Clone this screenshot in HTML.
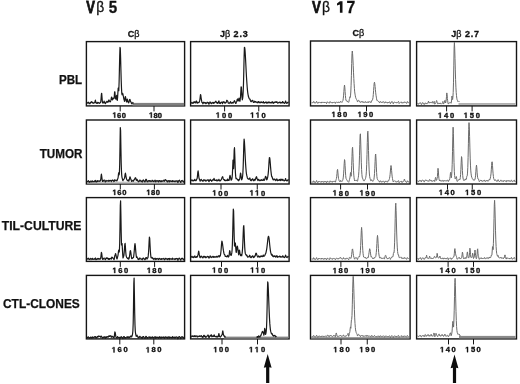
<!DOCTYPE html>
<html><head><meta charset="utf-8"><style>
html,body{margin:0;padding:0;background:#fff;}
svg{display:block;will-change:transform;}
text{font-family:"Liberation Sans",sans-serif;fill:#111;}
.t{stroke:#111;stroke-width:0.25;}
.h{stroke:#111;stroke-width:0.15;}
</style></head><body>
<svg width="520" height="384" viewBox="0 0 520 384">
<rect x="86.4" y="41.6" width="98.20" height="64.30" fill="none" stroke="#151515" stroke-width="1.4"/>
<rect x="86.4" y="120.0" width="98.20" height="64.00" fill="none" stroke="#151515" stroke-width="1.4"/>
<rect x="86.4" y="197.6" width="98.20" height="63.80" fill="none" stroke="#151515" stroke-width="1.4"/>
<rect x="86.4" y="275.4" width="98.20" height="63.50" fill="none" stroke="#151515" stroke-width="1.4"/>
<rect x="190.6" y="41.6" width="98.50" height="64.30" fill="none" stroke="#151515" stroke-width="1.4"/>
<rect x="190.6" y="120.0" width="98.50" height="64.00" fill="none" stroke="#151515" stroke-width="1.4"/>
<rect x="190.6" y="197.6" width="98.50" height="63.80" fill="none" stroke="#151515" stroke-width="1.4"/>
<rect x="190.6" y="275.4" width="98.50" height="63.50" fill="none" stroke="#151515" stroke-width="1.4"/>
<rect x="310.5" y="41.0" width="99.60" height="64.90" fill="none" stroke="#151515" stroke-width="1.4"/>
<rect x="310.5" y="120.0" width="99.60" height="64.00" fill="none" stroke="#151515" stroke-width="1.4"/>
<rect x="310.5" y="197.6" width="99.60" height="63.80" fill="none" stroke="#151515" stroke-width="1.4"/>
<rect x="310.5" y="275.4" width="99.60" height="63.50" fill="none" stroke="#151515" stroke-width="1.4"/>
<rect x="416.6" y="41.6" width="99.90" height="64.30" fill="none" stroke="#151515" stroke-width="1.4"/>
<rect x="416.6" y="120.0" width="99.90" height="64.00" fill="none" stroke="#151515" stroke-width="1.4"/>
<rect x="416.6" y="197.6" width="99.90" height="63.80" fill="none" stroke="#151515" stroke-width="1.4"/>
<rect x="416.6" y="275.4" width="99.90" height="63.50" fill="none" stroke="#151515" stroke-width="1.4"/>
<text transform="translate(86.20,12.57) scale(0.824,1)" font-size="15.82" font-weight="bold" stroke="#111" stroke-width="0.75">V</text>
<text transform="translate(96.17,12.44) scale(0.976,1)" font-size="14.25" font-weight="normal" stroke="#111" stroke-width="0.3">β</text>
<text transform="translate(108.72,12.54) scale(0.967,1)" font-size="15.63" font-weight="bold" stroke="#111" stroke-width="0.3">5</text>
<text transform="translate(312.01,12.57) scale(0.828,1)" font-size="16.10" font-weight="bold" stroke="#111" stroke-width="0.75">V</text>
<text transform="translate(321.97,12.44) scale(0.976,1)" font-size="14.25" font-weight="normal" stroke="#111" stroke-width="0.3">β</text>
<path d="M339.9 1.3 L342.5 1.3 L342.5 12.7 L339.9 12.7 L339.9 4.6 L337.0 5.6 L337.0 3.5 Z" fill="#111"/>
<text transform="translate(346.38,12.57) scale(0.998,1)" font-size="15.68" font-weight="bold" stroke="#111" stroke-width="0.3">7</text>
<text x="127.8" y="36.7" font-size="9.0" font-weight="bold" stroke="#111" stroke-width="0.3">C<tspan font-weight="normal">β</tspan></text>
<text x="352.4" y="36.4" font-size="9.0" font-weight="bold" stroke="#111" stroke-width="0.3">C<tspan font-weight="normal">β</tspan></text>
<text x="219.9" y="36.8" font-size="9.0" font-weight="bold" stroke="#111" stroke-width="0.3">J<tspan font-weight="normal">β</tspan></text>
<text x="233.6" y="36.8" font-size="9.0" font-weight="bold" stroke="#111" stroke-width="0.3" textLength="14.2" lengthAdjust="spacing">2.3</text>
<text x="451.3" y="36.8" font-size="9.0" font-weight="bold" stroke="#111" stroke-width="0.3">J<tspan font-weight="normal">β</tspan></text>
<text x="464.9" y="36.8" font-size="9.0" font-weight="bold" stroke="#111" stroke-width="0.3" textLength="14.0" lengthAdjust="spacing">2.7</text>
<text x="59.0" y="83.6" font-size="12.4" font-weight="bold" stroke="#111" stroke-width="0.25" textLength="23.2" lengthAdjust="spacingAndGlyphs">PBL</text>
<text x="39.7" y="157.5" font-size="12.4" font-weight="bold" stroke="#111" stroke-width="0.25" textLength="42.8" lengthAdjust="spacingAndGlyphs">TUMOR</text>
<text x="1.8" y="229.5" font-size="12.4" font-weight="bold" stroke="#111" stroke-width="0.25" textLength="79.6" lengthAdjust="spacingAndGlyphs">TIL-CULTURE</text>
<text x="3.0" y="308.2" font-size="12.4" font-weight="bold" stroke="#111" stroke-width="0.25" textLength="76.8" lengthAdjust="spacingAndGlyphs">CTL-CLONES</text>
<line x1="120.2" y1="105.9" x2="120.2" y2="111.4" stroke="#151515" stroke-width="1"/>
<line x1="154.0" y1="105.9" x2="154.0" y2="111.4" stroke="#151515" stroke-width="1"/>
<line x1="120.3" y1="184.0" x2="120.3" y2="189.5" stroke="#151515" stroke-width="1"/>
<line x1="154.4" y1="184.0" x2="154.4" y2="189.5" stroke="#151515" stroke-width="1"/>
<line x1="120.3" y1="261.4" x2="120.3" y2="266.9" stroke="#151515" stroke-width="1"/>
<line x1="154.6" y1="261.4" x2="154.6" y2="266.9" stroke="#151515" stroke-width="1"/>
<line x1="119.8" y1="338.9" x2="119.8" y2="344.4" stroke="#151515" stroke-width="1"/>
<line x1="153.8" y1="338.9" x2="153.8" y2="344.4" stroke="#151515" stroke-width="1"/>
<line x1="224.6" y1="105.9" x2="224.6" y2="111.4" stroke="#151515" stroke-width="1"/>
<line x1="258.75" y1="105.9" x2="258.75" y2="111.4" stroke="#151515" stroke-width="1"/>
<line x1="221.0" y1="184.0" x2="221.0" y2="189.5" stroke="#151515" stroke-width="1"/>
<line x1="257.25" y1="184.0" x2="257.25" y2="189.5" stroke="#151515" stroke-width="1"/>
<line x1="221.5" y1="261.4" x2="221.5" y2="266.9" stroke="#151515" stroke-width="1"/>
<line x1="257.5" y1="261.4" x2="257.5" y2="266.9" stroke="#151515" stroke-width="1"/>
<line x1="222.0" y1="338.9" x2="222.0" y2="344.4" stroke="#151515" stroke-width="1"/>
<line x1="257.5" y1="338.9" x2="257.5" y2="344.4" stroke="#151515" stroke-width="1"/>
<line x1="339.75" y1="105.9" x2="339.75" y2="111.4" stroke="#151515" stroke-width="1"/>
<line x1="366.5" y1="105.9" x2="366.5" y2="111.4" stroke="#151515" stroke-width="1"/>
<line x1="340.6" y1="184.0" x2="340.6" y2="189.5" stroke="#151515" stroke-width="1"/>
<line x1="367.5" y1="184.0" x2="367.5" y2="189.5" stroke="#151515" stroke-width="1"/>
<line x1="340.9" y1="261.4" x2="340.9" y2="266.9" stroke="#151515" stroke-width="1"/>
<line x1="367.75" y1="261.4" x2="367.75" y2="266.9" stroke="#151515" stroke-width="1"/>
<line x1="341.0" y1="338.9" x2="341.0" y2="344.4" stroke="#151515" stroke-width="1"/>
<line x1="367.25" y1="338.9" x2="367.25" y2="344.4" stroke="#151515" stroke-width="1"/>
<line x1="446.6" y1="105.9" x2="446.6" y2="111.4" stroke="#151515" stroke-width="1"/>
<line x1="472.1" y1="105.9" x2="472.1" y2="111.4" stroke="#151515" stroke-width="1"/>
<line x1="447.5" y1="184.0" x2="447.5" y2="189.5" stroke="#151515" stroke-width="1"/>
<line x1="472.25" y1="184.0" x2="472.25" y2="189.5" stroke="#151515" stroke-width="1"/>
<line x1="448.1" y1="261.4" x2="448.1" y2="266.9" stroke="#151515" stroke-width="1"/>
<line x1="473.5" y1="261.4" x2="473.5" y2="266.9" stroke="#151515" stroke-width="1"/>
<line x1="448.5" y1="338.9" x2="448.5" y2="344.4" stroke="#151515" stroke-width="1"/>
<line x1="473.5" y1="338.9" x2="473.5" y2="344.4" stroke="#151515" stroke-width="1"/>
<path d="M114.20 117.70 L114.20 113.36 L112.95 114.14 L112.95 113.32 L114.26 112.47 L115.25 112.47 L115.25 117.70 Z" fill="#111" stroke="#111" stroke-width="0.35"/>
<text x="117.10" y="117.70" font-size="7.6" font-weight="bold" stroke="#111" stroke-width="0.35">6</text>
<text x="121.78" y="117.70" font-size="7.6" font-weight="bold" stroke="#111" stroke-width="0.35">0</text>
<path d="M150.80 117.70 L150.80 113.36 L149.55 114.14 L149.55 113.32 L150.86 112.47 L151.85 112.47 L151.85 117.70 Z" fill="#111" stroke="#111" stroke-width="0.35"/>
<text x="153.40" y="117.70" font-size="7.6" font-weight="bold" stroke="#111" stroke-width="0.35">8</text>
<text x="157.78" y="117.70" font-size="7.6" font-weight="bold" stroke="#111" stroke-width="0.35">0</text>
<path d="M217.65 117.70 L217.65 113.36 L216.40 114.14 L216.40 113.32 L217.71 112.47 L218.70 112.47 L218.70 117.70 Z" fill="#111" stroke="#111" stroke-width="0.35"/>
<text x="221.88" y="117.70" font-size="7.6" font-weight="bold" stroke="#111" stroke-width="0.35">0</text>
<text x="227.88" y="117.70" font-size="7.6" font-weight="bold" stroke="#111" stroke-width="0.35">0</text>
<path d="M252.00 117.70 L252.00 113.36 L250.75 114.14 L250.75 113.32 L252.06 112.47 L253.05 112.47 L253.05 117.70 Z" fill="#111" stroke="#111" stroke-width="0.35"/>
<path d="M257.47 117.70 L257.47 113.36 L256.21 114.14 L256.21 113.32 L257.52 112.47 L258.51 112.47 L258.51 117.70 Z" fill="#111" stroke="#111" stroke-width="0.35"/>
<text x="261.58" y="117.70" font-size="7.6" font-weight="bold" stroke="#111" stroke-width="0.35">0</text>
<path d="M333.30 117.10 L333.30 112.76 L332.05 113.54 L332.05 112.72 L333.36 111.87 L334.35 111.87 L334.35 117.10 Z" fill="#111" stroke="#111" stroke-width="0.35"/>
<text x="337.20" y="117.10" font-size="7.6" font-weight="bold" stroke="#111" stroke-width="0.35">8</text>
<text x="342.88" y="117.10" font-size="7.6" font-weight="bold" stroke="#111" stroke-width="0.35">0</text>
<path d="M359.40 117.10 L359.40 112.76 L358.15 113.54 L358.15 112.72 L359.46 111.87 L360.45 111.87 L360.45 117.10 Z" fill="#111" stroke="#111" stroke-width="0.35"/>
<text x="363.30" y="117.10" font-size="7.6" font-weight="bold" stroke="#111" stroke-width="0.35">9</text>
<text x="368.98" y="117.10" font-size="7.6" font-weight="bold" stroke="#111" stroke-width="0.35">0</text>
<path d="M439.70 117.90 L439.70 113.56 L438.45 114.34 L438.45 113.52 L439.76 112.67 L440.75 112.67 L440.75 117.90 Z" fill="#111" stroke="#111" stroke-width="0.35"/>
<text x="443.90" y="117.90" font-size="7.6" font-weight="bold" stroke="#111" stroke-width="0.35">4</text>
<text x="449.88" y="117.90" font-size="7.6" font-weight="bold" stroke="#111" stroke-width="0.35">0</text>
<path d="M465.50 117.90 L465.50 113.56 L464.25 114.34 L464.25 113.52 L465.56 112.67 L466.55 112.67 L466.55 117.90 Z" fill="#111" stroke="#111" stroke-width="0.35"/>
<text x="469.70" y="117.90" font-size="7.6" font-weight="bold" stroke="#111" stroke-width="0.35">5</text>
<text x="475.68" y="117.90" font-size="7.6" font-weight="bold" stroke="#111" stroke-width="0.35">0</text>
<path d="M114.20 195.00 L114.20 190.66 L112.95 191.44 L112.95 190.62 L114.26 189.77 L115.25 189.77 L115.25 195.00 Z" fill="#111" stroke="#111" stroke-width="0.35"/>
<text x="117.35" y="195.00" font-size="7.6" font-weight="bold" stroke="#111" stroke-width="0.35">6</text>
<text x="122.28" y="195.00" font-size="7.6" font-weight="bold" stroke="#111" stroke-width="0.35">0</text>
<path d="M148.15 195.00 L148.15 190.66 L146.90 191.44 L146.90 190.62 L148.21 189.77 L149.20 189.77 L149.20 195.00 Z" fill="#111" stroke="#111" stroke-width="0.35"/>
<text x="151.03" y="195.00" font-size="7.6" font-weight="bold" stroke="#111" stroke-width="0.35">8</text>
<text x="155.68" y="195.00" font-size="7.6" font-weight="bold" stroke="#111" stroke-width="0.35">0</text>
<path d="M214.15 195.50 L214.15 191.16 L212.90 191.94 L212.90 191.12 L214.21 190.27 L215.20 190.27 L215.20 195.50 Z" fill="#111" stroke="#111" stroke-width="0.35"/>
<text x="218.23" y="195.50" font-size="7.6" font-weight="bold" stroke="#111" stroke-width="0.35">0</text>
<text x="224.08" y="195.50" font-size="7.6" font-weight="bold" stroke="#111" stroke-width="0.35">0</text>
<path d="M251.40 195.50 L251.40 191.16 L250.15 191.94 L250.15 191.12 L251.46 190.27 L252.45 190.27 L252.45 195.50 Z" fill="#111" stroke="#111" stroke-width="0.35"/>
<path d="M256.87 195.50 L256.87 191.16 L255.61 191.94 L255.61 191.12 L256.92 190.27 L257.91 190.27 L257.91 195.50 Z" fill="#111" stroke="#111" stroke-width="0.35"/>
<text x="260.98" y="195.50" font-size="7.6" font-weight="bold" stroke="#111" stroke-width="0.35">0</text>
<path d="M334.50 195.50 L334.50 191.16 L333.25 191.94 L333.25 191.12 L334.56 190.27 L335.55 190.27 L335.55 195.50 Z" fill="#111" stroke="#111" stroke-width="0.35"/>
<text x="338.73" y="195.50" font-size="7.6" font-weight="bold" stroke="#111" stroke-width="0.35">8</text>
<text x="344.73" y="195.50" font-size="7.6" font-weight="bold" stroke="#111" stroke-width="0.35">0</text>
<path d="M361.40 195.50 L361.40 191.16 L360.15 191.94 L360.15 191.12 L361.46 190.27 L362.45 190.27 L362.45 195.50 Z" fill="#111" stroke="#111" stroke-width="0.35"/>
<text x="365.30" y="195.50" font-size="7.6" font-weight="bold" stroke="#111" stroke-width="0.35">9</text>
<text x="370.98" y="195.50" font-size="7.6" font-weight="bold" stroke="#111" stroke-width="0.35">0</text>
<path d="M440.60 195.10 L440.60 190.76 L439.35 191.54 L439.35 190.72 L440.66 189.87 L441.65 189.87 L441.65 195.10 Z" fill="#111" stroke="#111" stroke-width="0.35"/>
<text x="444.65" y="195.10" font-size="7.6" font-weight="bold" stroke="#111" stroke-width="0.35">4</text>
<text x="450.48" y="195.10" font-size="7.6" font-weight="bold" stroke="#111" stroke-width="0.35">0</text>
<path d="M466.90 195.10 L466.90 190.76 L465.65 191.54 L465.65 190.72 L466.96 189.87 L467.95 189.87 L467.95 195.10 Z" fill="#111" stroke="#111" stroke-width="0.35"/>
<text x="471.05" y="195.10" font-size="7.6" font-weight="bold" stroke="#111" stroke-width="0.35">5</text>
<text x="476.98" y="195.10" font-size="7.6" font-weight="bold" stroke="#111" stroke-width="0.35">0</text>
<path d="M114.20 273.00 L114.20 268.66 L112.95 269.44 L112.95 268.62 L114.26 267.77 L115.25 267.77 L115.25 273.00 Z" fill="#111" stroke="#111" stroke-width="0.35"/>
<text x="118.15" y="273.00" font-size="7.6" font-weight="bold" stroke="#111" stroke-width="0.35">6</text>
<text x="123.88" y="273.00" font-size="7.6" font-weight="bold" stroke="#111" stroke-width="0.35">0</text>
<path d="M148.70 273.00 L148.70 268.66 L147.45 269.44 L147.45 268.62 L148.76 267.77 L149.75 267.77 L149.75 273.00 Z" fill="#111" stroke="#111" stroke-width="0.35"/>
<text x="152.35" y="273.00" font-size="7.6" font-weight="bold" stroke="#111" stroke-width="0.35">8</text>
<text x="157.78" y="273.00" font-size="7.6" font-weight="bold" stroke="#111" stroke-width="0.35">0</text>
<path d="M213.90 272.65 L213.90 268.31 L212.65 269.09 L212.65 268.27 L213.96 267.42 L214.95 267.42 L214.95 272.65 Z" fill="#111" stroke="#111" stroke-width="0.35"/>
<text x="218.00" y="272.65" font-size="7.6" font-weight="bold" stroke="#111" stroke-width="0.35">0</text>
<text x="223.88" y="272.65" font-size="7.6" font-weight="bold" stroke="#111" stroke-width="0.35">0</text>
<path d="M252.00 272.65 L252.00 268.31 L250.75 269.09 L250.75 268.27 L252.06 267.42 L253.05 267.42 L253.05 272.65 Z" fill="#111" stroke="#111" stroke-width="0.35"/>
<path d="M257.17 272.65 L257.17 268.31 L255.91 269.09 L255.91 268.27 L257.22 267.42 L258.21 267.42 L258.21 272.65 Z" fill="#111" stroke="#111" stroke-width="0.35"/>
<text x="260.98" y="272.65" font-size="7.6" font-weight="bold" stroke="#111" stroke-width="0.35">0</text>
<path d="M334.50 273.15 L334.50 268.81 L333.25 269.59 L333.25 268.77 L334.56 267.92 L335.55 267.92 L335.55 273.15 Z" fill="#111" stroke="#111" stroke-width="0.35"/>
<text x="338.40" y="273.15" font-size="7.6" font-weight="bold" stroke="#111" stroke-width="0.35">8</text>
<text x="344.08" y="273.15" font-size="7.6" font-weight="bold" stroke="#111" stroke-width="0.35">0</text>
<path d="M362.00 273.15 L362.00 268.81 L360.75 269.59 L360.75 268.77 L362.06 267.92 L363.05 267.92 L363.05 273.15 Z" fill="#111" stroke="#111" stroke-width="0.35"/>
<text x="365.60" y="273.15" font-size="7.6" font-weight="bold" stroke="#111" stroke-width="0.35">9</text>
<text x="370.98" y="273.15" font-size="7.6" font-weight="bold" stroke="#111" stroke-width="0.35">0</text>
<path d="M441.40 272.90 L441.40 268.56 L440.15 269.34 L440.15 268.52 L441.46 267.67 L442.45 267.67 L442.45 272.90 Z" fill="#111" stroke="#111" stroke-width="0.35"/>
<text x="445.50" y="272.90" font-size="7.6" font-weight="bold" stroke="#111" stroke-width="0.35">4</text>
<text x="451.38" y="272.90" font-size="7.6" font-weight="bold" stroke="#111" stroke-width="0.35">0</text>
<path d="M466.40 272.90 L466.40 268.56 L465.15 269.34 L465.15 268.52 L466.46 267.67 L467.45 267.67 L467.45 272.90 Z" fill="#111" stroke="#111" stroke-width="0.35"/>
<text x="470.30" y="272.90" font-size="7.6" font-weight="bold" stroke="#111" stroke-width="0.35">5</text>
<text x="475.98" y="272.90" font-size="7.6" font-weight="bold" stroke="#111" stroke-width="0.35">0</text>
<path d="M113.50 352.40 L113.50 348.06 L112.25 348.84 L112.25 348.02 L113.56 347.17 L114.55 347.17 L114.55 352.40 Z" fill="#111" stroke="#111" stroke-width="0.35"/>
<text x="117.55" y="352.40" font-size="7.6" font-weight="bold" stroke="#111" stroke-width="0.35">6</text>
<text x="123.38" y="352.40" font-size="7.6" font-weight="bold" stroke="#111" stroke-width="0.35">0</text>
<path d="M147.60 352.40 L147.60 348.06 L146.35 348.84 L146.35 348.02 L147.66 347.17 L148.65 347.17 L148.65 352.40 Z" fill="#111" stroke="#111" stroke-width="0.35"/>
<text x="151.55" y="352.40" font-size="7.6" font-weight="bold" stroke="#111" stroke-width="0.35">8</text>
<text x="157.28" y="352.40" font-size="7.6" font-weight="bold" stroke="#111" stroke-width="0.35">0</text>
<path d="M215.15 352.15 L215.15 347.81 L213.90 348.59 L213.90 347.77 L215.21 346.92 L216.20 346.92 L216.20 352.15 Z" fill="#111" stroke="#111" stroke-width="0.35"/>
<text x="219.05" y="352.15" font-size="7.6" font-weight="bold" stroke="#111" stroke-width="0.35">0</text>
<text x="224.73" y="352.15" font-size="7.6" font-weight="bold" stroke="#111" stroke-width="0.35">0</text>
<path d="M250.80 352.15 L250.80 347.81 L249.55 348.59 L249.55 347.77 L250.86 346.92 L251.85 346.92 L251.85 352.15 Z" fill="#111" stroke="#111" stroke-width="0.35"/>
<path d="M256.57 352.15 L256.57 347.81 L255.31 348.59 L255.31 347.77 L256.62 346.92 L257.61 346.92 L257.61 352.15 Z" fill="#111" stroke="#111" stroke-width="0.35"/>
<text x="260.98" y="352.15" font-size="7.6" font-weight="bold" stroke="#111" stroke-width="0.35">0</text>
<path d="M335.15 352.15 L335.15 347.81 L333.90 348.59 L333.90 347.77 L335.21 346.92 L336.20 346.92 L336.20 352.15 Z" fill="#111" stroke="#111" stroke-width="0.35"/>
<text x="339.38" y="352.15" font-size="7.6" font-weight="bold" stroke="#111" stroke-width="0.35">8</text>
<text x="345.38" y="352.15" font-size="7.6" font-weight="bold" stroke="#111" stroke-width="0.35">0</text>
<path d="M361.15 352.15 L361.15 347.81 L359.90 348.59 L359.90 347.77 L361.21 346.92 L362.20 346.92 L362.20 352.15 Z" fill="#111" stroke="#111" stroke-width="0.35"/>
<text x="365.18" y="352.15" font-size="7.6" font-weight="bold" stroke="#111" stroke-width="0.35">9</text>
<text x="370.98" y="352.15" font-size="7.6" font-weight="bold" stroke="#111" stroke-width="0.35">0</text>
<path d="M441.80 352.15 L441.80 347.81 L440.55 348.59 L440.55 347.77 L441.86 346.92 L442.85 346.92 L442.85 352.15 Z" fill="#111" stroke="#111" stroke-width="0.35"/>
<text x="445.80" y="352.15" font-size="7.6" font-weight="bold" stroke="#111" stroke-width="0.35">4</text>
<text x="451.58" y="352.15" font-size="7.6" font-weight="bold" stroke="#111" stroke-width="0.35">0</text>
<path d="M467.00 352.15 L467.00 347.81 L465.75 348.59 L465.75 347.77 L467.06 346.92 L468.05 346.92 L468.05 352.15 Z" fill="#111" stroke="#111" stroke-width="0.35"/>
<text x="470.90" y="352.15" font-size="7.6" font-weight="bold" stroke="#111" stroke-width="0.35">5</text>
<text x="476.58" y="352.15" font-size="7.6" font-weight="bold" stroke="#111" stroke-width="0.35">0</text>
<rect x="132.5" y="102.9" width="51.70" height="2.80" fill="#808080"/>
<polyline points="87.3,103.7 87.6,102.6 87.9,102.3 88.2,102.3 88.5,102.2 88.8,103.2 89.1,103.8 89.4,103.1 89.7,103.0 90.0,103.6 90.3,103.1 90.6,102.3 90.9,102.2 91.2,101.9 91.5,101.7 91.8,102.6 92.1,102.8 92.4,102.2 92.7,102.5 93.0,103.1 93.3,103.1 93.6,103.2 93.9,103.3 94.2,102.6 94.5,102.6 94.8,102.4 95.1,101.1 95.4,100.1 95.7,101.6 96.0,102.9 96.3,103.1 96.6,103.3 96.9,103.0 97.2,102.4 97.5,102.9 97.8,103.3 98.1,102.7 98.4,102.5 98.7,103.0 99.0,103.0 99.3,103.0 99.6,103.3 99.9,102.8 100.2,102.5 100.5,102.7 100.8,101.5 101.1,98.3 101.4,94.2 101.7,93.3 102.0,97.2 102.3,101.1 102.6,102.9 102.9,102.7 103.2,102.6 103.5,102.9 103.8,101.9 104.1,101.1 104.4,102.0 104.7,102.9 105.0,103.2 105.3,103.7 105.6,103.4 105.9,102.3 106.2,102.1 106.5,102.2 106.8,101.4 107.1,101.3 107.4,102.1 107.7,102.3 108.0,102.1 108.3,101.9 108.6,100.5 108.9,99.9 109.2,100.5 109.5,101.3 109.8,101.5 110.1,101.9 110.4,101.8 110.7,100.9 111.0,99.7 111.3,98.2 111.6,97.0 111.9,97.8 112.2,99.6 112.5,99.9 112.8,98.7 113.1,98.2 113.4,98.8 113.7,98.4 114.0,98.4 114.3,96.5 114.6,91.8 114.9,91.8 115.2,96.2 115.5,98.5 115.8,99.1 116.1,99.2 116.4,96.1 116.7,95.4 117.0,98.2 117.3,100.5 117.6,97.5 117.9,92.4 118.2,88.1 118.5,90.6 118.8,90.7 119.1,82.3 119.4,70.1 119.7,56.5 120.0,47.4 120.3,48.5 120.6,57.6 120.9,69.5 121.2,80.2 121.5,88.3 121.8,93.7 122.1,94.8 122.4,93.4 122.7,93.4 123.0,94.5 123.3,96.0 123.6,97.7 123.9,99.3 124.2,99.9 124.5,101.4 124.8,100.0 125.1,97.7 125.4,96.5 125.7,97.9 126.0,100.0 126.3,101.1 126.6,102.0 126.9,100.6 127.2,99.1 127.5,99.7 127.8,101.4 128.1,101.9 128.4,102.6 128.7,102.9 129.0,102.0 129.3,100.7 129.6,99.6 129.9,99.4 130.2,100.0 130.5,101.5 130.8,101.9 131.1,102.0 131.4,103.3 131.7,103.8 132.0,103.4 132.3,103.1 132.6,103.0 132.9,102.5 133.2,103.1 133.5,103.5" fill="none" stroke="#1a1a1a" stroke-width="1.2" stroke-linejoin="round"/>
<polyline points="191.2,103.0 191.5,103.1 191.8,102.3 192.1,102.5 192.4,103.3 192.7,103.2 193.0,103.3 193.3,103.0 193.6,102.2 193.9,101.9 194.2,102.7 194.5,102.4 194.8,101.7 195.1,102.5 195.4,102.9 195.7,102.6 196.0,101.8 196.3,101.0 196.6,101.1 196.9,102.3 197.2,103.3 197.5,102.8 197.8,102.4 198.1,102.7 198.4,102.6 198.7,102.3 199.0,102.5 199.3,101.9 199.6,100.9 199.9,99.6 200.2,97.0 200.5,94.5 200.8,95.2 201.1,97.8 201.4,99.7 201.7,101.4 202.0,102.5 202.3,102.6 202.6,102.8 202.9,103.8 203.2,103.4 203.5,102.3 203.8,102.2 204.1,102.4 204.4,102.5 204.7,103.1 205.0,103.1 205.3,102.6 205.6,102.9 205.9,103.7 206.2,103.5 206.5,102.9 206.8,103.0 207.1,102.3 207.4,102.2 207.7,102.8 208.0,102.5 208.3,102.5 208.6,103.5 208.9,104.2 209.2,103.5 209.5,103.0 209.8,102.4 210.1,101.9 210.4,102.3 210.7,103.2 211.0,103.0 211.3,102.9 211.6,103.7 211.9,103.4 212.2,102.7 212.5,102.6 212.8,102.4 213.1,102.3 213.4,103.3 213.7,103.4 214.0,102.6 214.3,102.6 214.6,102.9 214.9,102.4 215.2,101.8 215.6,101.4 215.9,101.1 216.2,101.9 216.5,102.9 216.8,102.9 217.1,102.4 217.4,102.9 217.7,103.4 218.0,103.1 218.3,102.6 218.6,101.8 218.9,100.8 219.2,101.8 219.5,103.3 219.8,103.1 220.1,103.1 220.4,103.5 220.7,102.9 221.0,102.4 221.3,102.4 221.6,102.0 221.9,102.1 222.2,103.1 222.5,103.7 222.8,102.4 223.1,101.8 223.4,102.0 223.7,101.9 224.0,102.4 224.3,102.8 224.6,102.1 224.9,102.4 225.2,103.1 225.5,103.0 225.8,102.7 226.1,102.5 226.4,101.7 226.7,100.4 227.0,100.3 227.3,100.7 227.6,100.9 227.9,101.8 228.2,103.0 228.5,103.0 228.8,103.3 229.1,103.5 229.4,103.0 229.7,102.6 230.0,102.8 230.3,102.1 230.6,101.7 230.9,102.7 231.2,103.3 231.5,103.1 231.8,103.0 232.1,102.7 232.4,102.4 232.7,102.7 233.0,103.2 233.3,102.5 233.6,102.1 233.9,101.9 234.2,101.1 234.5,100.7 234.8,101.6 235.1,102.2 235.4,102.7 235.7,103.5 236.0,103.3 236.3,102.1 236.6,101.6 236.9,101.0 237.2,99.4 237.5,99.0 237.8,100.1 238.1,101.0 238.4,101.0 238.7,99.3 239.0,98.1 239.3,99.0 239.6,100.8 239.9,101.3 240.2,99.6 240.5,96.9 240.8,91.8 241.1,86.8 241.4,87.2 241.7,92.4 242.0,97.2 242.3,99.8 242.6,98.6 242.9,96.1 243.2,91.4 243.5,83.4 243.8,71.1 244.1,56.9 244.4,47.4 244.7,47.5 245.0,50.1 245.3,54.5 245.6,60.0 245.9,65.7 246.2,71.7 246.5,77.2 246.8,81.8 247.1,86.0 247.4,89.6 247.7,92.3 248.0,94.3 248.3,96.0 248.6,97.1 248.9,97.8 249.2,98.6 249.5,99.0 249.8,99.2 250.1,99.2 250.4,100.8 250.7,101.3 251.0,101.7 251.3,101.7 251.6,100.9 251.9,100.6 252.2,100.8 252.5,100.3 252.8,100.3 253.1,101.5 253.4,102.4 253.7,102.3 254.0,102.4 254.3,101.7 254.6,101.2 254.9,101.6 255.2,102.0 255.5,101.5 255.8,101.6 256.1,102.1 256.4,102.1 256.7,102.2 257.0,102.5 257.3,102.0 257.6,102.1 257.9,102.8 258.2,102.5 258.5,101.5 258.8,101.7 259.1,102.1 259.4,102.2 259.7,102.8 260.0,102.9 260.3,102.0 260.6,102.1 260.9,102.7 261.2,102.3 261.5,102.0 261.8,102.4 262.1,102.6 262.4,102.5 262.7,102.7 263.0,102.2 263.3,101.6 263.6,102.2 263.9,103.1 264.3,102.9 264.6,102.7 264.9,102.8 265.2,102.2 265.5,102.1 265.8,102.5 266.1,102.0 266.4,102.0 266.7,103.1 267.0,103.3 267.3,102.8 267.6,102.6 267.9,102.2 268.2,102.0 268.5,102.6 268.8,102.9 269.1,102.1 269.4,102.0 269.7,102.8 270.0,102.7 270.3,102.5 270.6,102.9 270.9,102.5 271.2,102.6 271.5,102.9 271.8,102.5 272.1,101.6 272.4,102.1 272.7,102.8 273.0,103.0 273.3,103.3 273.6,102.8 273.9,102.2 274.2,102.3 274.5,102.7 274.8,102.2 275.1,101.8 275.4,102.3 275.7,102.2 276.0,102.0 276.3,102.4 276.6,101.9 276.9,101.6 277.2,102.5 277.5,103.1 277.8,102.8 278.1,102.8 278.4,102.8 278.7,102.5 279.0,102.4 279.3,102.5 279.6,102.0 279.9,102.0 280.2,103.1 280.5,102.8 280.8,102.3 281.1,102.6 281.4,102.7 281.7,102.7 282.0,103.0 282.3,102.7 282.6,101.5 282.9,101.7 283.2,102.6 283.5,102.5 283.8,102.8 284.1,103.3 284.4,103.3 284.7,103.0 285.0,102.9 285.3,101.9 285.6,101.0 285.9,101.9 286.2,102.9 286.5,103.1 286.8,103.4 287.1,103.3 287.4,102.6 287.7,102.5 288.0,102.7 288.3,101.6" fill="none" stroke="#1a1a1a" stroke-width="1.2" stroke-linejoin="round"/>
<polyline points="311.5,102.8 311.8,102.8 312.1,103.1 312.4,102.7 312.7,102.7 313.0,103.0 313.3,102.5 313.6,101.5 313.9,101.6 314.2,102.2 314.5,102.3 314.8,103.1 315.1,103.2 315.4,102.8 315.7,102.8 316.0,102.8 316.3,101.8 316.6,101.3 316.9,102.0 317.2,102.5 317.5,103.0 317.8,103.4 318.1,102.8 318.4,102.0 318.7,102.4 319.0,102.6 319.3,102.1 319.6,102.2 319.9,102.6 320.2,102.7 320.5,102.7 320.8,103.0 321.1,102.1 321.4,102.1 321.7,103.0 322.0,102.9 322.3,102.2 322.6,102.3 322.9,102.3 323.2,102.2 323.5,102.7 323.8,103.0 324.1,102.3 324.4,102.3 324.7,102.9 325.0,102.3 325.3,102.0 325.6,102.4 325.9,102.5 326.2,102.9 326.5,103.6 326.8,102.9 327.1,101.8 327.4,101.9 327.7,102.2 328.0,102.2 328.3,102.6 328.6,103.0 328.9,102.8 329.2,103.0 329.5,103.1 329.8,102.1 330.1,101.5 330.4,102.2 330.7,102.5 331.0,102.6 331.3,102.8 331.6,102.5 331.9,102.1 332.2,102.9 332.5,103.1 332.8,102.3 333.1,102.0 333.4,102.5 333.7,102.3 334.0,102.1 334.3,102.3 334.6,102.2 334.9,102.3 335.2,103.4 335.5,103.3 335.8,102.2 336.1,102.0 336.4,102.1 336.7,102.0 337.0,102.4 337.3,102.6 337.6,102.3 337.9,102.4 338.2,102.9 338.5,102.4 338.8,101.8 339.1,102.2 339.4,102.5 339.7,102.6 340.0,102.7 340.3,102.1 340.6,101.3 340.9,101.8 341.2,102.2 341.5,102.0 341.8,102.0 342.1,102.3 342.4,101.6 342.7,101.2 343.0,100.3 343.3,98.2 343.6,95.2 343.9,91.4 344.2,87.2 344.5,85.0 344.8,87.1 345.1,91.5 345.4,95.5 345.7,98.5 346.0,100.6 346.3,100.5 346.6,100.7 346.9,101.4 347.2,101.4 347.5,101.2 347.8,102.0 348.1,101.9 348.4,102.2 348.7,102.4 349.0,101.3 349.3,99.4 349.6,98.6 349.9,96.8 350.2,97.4 350.5,95.9 350.8,92.0 351.1,85.2 351.4,75.3 351.7,63.6 352.0,53.5 352.3,51.0 352.6,53.8 352.9,59.0 353.2,65.4 353.5,72.2 353.8,78.4 354.1,83.7 354.4,88.3 354.7,91.9 355.0,94.1 355.3,95.8 355.6,97.3 355.9,98.1 356.2,98.9 356.5,99.5 356.8,99.8 357.1,100.6 357.4,101.7 357.7,101.8 358.0,100.6 358.3,100.3 358.6,100.3 358.9,100.3 359.2,101.1 359.5,101.8 359.8,101.6 360.1,101.9 360.4,102.5 360.7,101.9 361.0,101.4 361.3,101.5 361.6,101.6 361.9,101.8 362.2,102.4 362.5,101.8 362.8,101.3 363.1,101.9 363.4,102.5 363.7,102.3 364.0,102.3 364.3,102.5 364.6,101.9 364.9,102.0 365.2,102.3 365.5,101.6 365.8,101.6 366.1,102.3 366.4,102.8 366.7,102.5 367.0,102.2 367.3,102.1 367.6,101.8 367.9,102.5 368.2,102.9 368.5,102.1 368.8,101.6 369.1,102.1 369.4,102.0 369.7,101.7 370.0,102.2 370.3,102.1 370.6,102.1 370.9,102.7 371.2,102.2 371.5,100.8 371.8,100.5 372.1,100.6 372.4,100.0 372.7,99.2 373.0,97.5 373.3,94.5 373.6,90.7 373.9,86.5 374.2,83.0 374.5,82.2 374.8,83.8 375.1,86.5 375.4,89.7 375.7,92.8 376.0,95.2 376.3,97.1 376.6,98.8 376.9,100.5 377.2,100.4 377.5,100.6 377.8,101.0 378.1,101.0 378.4,101.3 378.7,101.9 379.0,101.8 379.3,101.9 379.6,102.7 379.9,102.8 380.2,101.6 380.5,101.5 380.8,101.7 381.1,101.8 381.4,102.4 381.7,102.9 382.0,102.4 382.3,102.2 382.6,102.5 382.9,102.2 383.2,101.5 383.5,102.0 383.8,102.3 384.1,102.5 384.4,103.2 384.7,102.9 385.0,101.9 385.3,101.8 385.6,102.5 385.9,102.1 386.2,102.3 386.5,102.3 386.8,102.1 387.1,102.5 387.4,103.2 387.7,102.6 388.0,102.0 388.3,102.6 388.6,102.7 388.9,102.1 389.2,101.9 389.5,101.9 389.8,101.9 390.1,103.0 390.4,103.7 390.7,103.0 391.0,102.5 391.3,102.5 391.6,101.9 391.9,101.4 392.2,102.0 392.5,102.1 392.8,102.7 393.1,103.7 393.4,103.7 393.7,102.5 394.0,102.1 394.3,102.2 394.6,102.0 394.9,102.1 395.2,102.4 395.5,102.0 395.8,102.4 396.1,103.1 396.4,103.0 396.7,102.5 397.0,102.6 397.3,102.7 397.6,102.3 397.9,102.2 398.2,101.9 398.5,101.4 398.8,102.3 399.1,103.5 399.4,103.2 399.7,102.9 400.0,102.7 400.3,102.3 400.6,101.9 400.9,102.3 401.2,101.9 401.5,102.0 401.8,102.9 402.1,103.3 402.4,102.7 402.7,102.5 403.0,102.5 403.3,102.4 403.6,102.9 403.9,103.1 404.2,102.1 404.5,101.8 404.8,102.4 405.1,102.4 405.4,102.2 405.7,102.7 406.0,102.9 406.3,102.9 406.6,103.4 406.9,102.9 407.2,101.6 407.5,101.6 407.8,102.4 408.1,102.3 408.4,102.4 408.7,102.8 409.0,102.6 409.3,102.7" fill="none" stroke="#6a6a6a" stroke-width="1.0" stroke-linejoin="round"/>
<rect x="458.5" y="103.0" width="57.10" height="1.90" fill="#b0b0b0"/>
<polyline points="417.3,103.6 417.6,103.3 417.9,103.2 418.2,104.2 418.5,104.3 418.8,103.6 419.1,103.6 419.4,103.4 419.7,102.9 420.0,103.0 420.3,103.2 420.6,102.7 420.9,103.1 421.2,104.4 421.5,104.7 421.8,104.0 422.1,103.6 422.4,103.1 422.7,102.5 423.0,103.2 423.3,103.4 423.6,103.1 423.9,103.8 424.2,104.6 424.5,103.9 424.8,103.4 425.1,103.3 425.4,102.8 425.7,103.4 426.0,104.1 426.3,103.7 426.6,103.1 426.9,103.6 427.2,103.7 427.5,103.3 427.9,103.0 428.2,102.1 428.5,101.1 428.8,102.2 429.1,103.2 429.4,102.7 429.7,102.7 430.0,103.0 430.3,102.4 430.6,102.3 430.9,102.9 431.2,102.9 431.5,102.6 431.8,102.9 432.1,102.1 432.4,101.5 432.7,102.6 433.0,103.4 433.3,103.2 433.6,102.8 433.9,101.9 434.2,101.3 434.5,102.7 434.8,104.2 435.1,104.0 435.4,103.4 435.7,103.2 436.0,102.5 436.3,101.2 436.6,100.5 436.9,101.3 437.2,102.3 437.5,103.6 437.8,104.1 438.1,103.3 438.4,103.1 438.7,103.5 439.0,103.2 439.3,103.7 439.6,104.0 439.9,103.1 440.2,102.9 440.5,103.6 440.8,103.6 441.1,103.5 441.4,103.8 441.7,103.7 442.0,103.4 442.3,103.5 442.6,102.6 442.9,101.4 443.2,102.4 443.5,103.9 443.8,103.7 444.1,103.2 444.4,102.5 444.7,100.8 445.0,100.3 445.3,102.1 445.6,103.0 445.9,101.8 446.2,100.0 446.5,96.3 446.8,92.9 447.1,94.5 447.4,98.5 447.7,100.8 448.0,103.2 448.3,104.1 448.6,103.5 448.9,103.0 449.3,103.1 449.6,102.6 449.9,102.4 450.2,102.5 450.5,102.4 450.8,102.4 451.1,103.3 451.4,102.4 451.7,98.8 452.0,96.0 452.3,98.1 452.6,99.6 452.9,97.4 453.2,92.5 453.5,82.2 453.8,65.9 454.1,48.0 454.4,42.3 454.7,48.1 455.0,58.6 455.3,69.9 455.6,79.7 455.9,87.2 456.2,92.3 456.5,95.7 456.8,98.2 457.1,99.8 457.4,100.4 457.7,101.4 458.0,101.5 458.3,101.2 458.6,101.2 458.9,101.6 459.2,101.3 459.5,101.6" fill="none" stroke="#6a6a6a" stroke-width="1.0" stroke-linejoin="round"/>
<rect x="87" y="181.6" width="97.00" height="1.90" fill="#c4c4c4"/>
<polyline points="87.3,182.3 87.6,181.4 87.9,181.0 88.2,180.9 88.5,180.7 88.8,181.6 89.1,182.3 89.4,181.7 89.7,181.7 90.0,182.2 90.3,181.5 90.6,181.0 90.9,181.0 91.2,181.1 91.5,181.4 91.8,182.0 92.1,181.8 92.4,180.8 92.7,181.1 93.0,181.7 93.3,181.5 93.6,181.6 93.9,181.8 94.2,181.2 94.5,181.1 94.8,181.5 95.1,180.8 95.4,180.4 95.7,181.2 96.0,182.0 96.3,181.8 96.6,181.8 96.9,181.4 97.2,180.5 97.5,181.1 97.8,181.5 98.1,180.9 98.4,180.8 98.7,181.1 99.0,181.1 99.3,181.1 99.6,181.3 99.9,180.8 100.2,180.5 100.5,180.8 100.8,179.2 101.1,176.0 101.4,174.2 101.7,176.1 102.0,178.5 102.3,180.6 102.6,181.5 102.9,181.0 103.2,180.7 103.5,181.1 103.8,180.5 104.1,179.9 104.4,180.5 104.7,181.0 105.0,181.2 105.3,181.9 105.6,181.4 105.9,180.4 106.2,180.5 106.5,181.1 106.8,180.8 107.1,180.7 107.4,181.0 107.7,180.8 108.0,180.8 108.3,181.3 108.6,180.7 108.9,180.2 109.2,180.9 109.5,181.1 109.8,180.5 110.1,180.5 110.4,180.5 110.7,180.4 111.0,181.2 111.3,181.5 111.6,180.7 111.9,180.3 112.2,180.7 112.5,180.4 112.8,180.0 113.1,180.5 113.4,180.8 113.7,181.1 114.0,181.6 114.3,181.2 114.6,179.9 114.9,179.8 115.2,180.1 115.5,180.2 115.8,180.7 116.1,180.8 116.4,180.3 116.7,180.3 117.0,180.8 117.3,180.1 117.6,179.1 117.9,178.5 118.2,177.0 118.5,173.9 118.8,172.6 119.1,175.0 119.4,173.2 119.7,164.0 120.0,146.2 120.3,127.6 120.6,130.5 120.9,147.8 121.2,163.1 121.5,171.9 121.8,176.1 122.1,177.8 122.4,178.9 122.7,180.3 123.0,180.7 123.3,179.6 123.6,179.3 123.9,179.3 124.2,178.7 124.5,178.2 124.8,176.6 125.1,174.3 125.4,173.2 125.7,174.5 126.0,176.6 126.3,178.0 126.6,179.3 126.9,179.8 127.2,180.2 127.5,180.7 127.8,180.6 128.1,179.9 128.4,180.5 128.7,181.1 129.0,180.6 129.3,179.6 129.6,178.3 129.9,176.9 130.2,177.1 130.5,178.5 130.8,179.2 131.1,179.6 131.4,180.8 131.7,181.5 132.0,181.1 132.3,181.0 132.6,180.7 132.9,180.4 133.2,180.8 133.5,181.2 133.8,180.2 134.1,179.6 134.4,179.7 134.7,178.9 135.0,178.2 135.3,177.7 135.6,177.8 135.9,178.7 136.2,180.1 136.5,180.4 136.8,179.3 137.1,179.5 137.4,180.1 137.7,180.7 138.0,181.3 138.3,181.8 138.6,181.2 138.9,181.1 139.2,181.4 139.5,180.8 139.8,180.0 140.1,180.3 140.4,180.5 140.7,180.9 141.0,181.4 141.3,181.4 141.6,180.9 141.9,181.4 142.2,182.0 142.5,181.1 142.8,180.4 143.1,180.3 143.4,180.0 143.7,180.4 144.0,181.2 144.3,181.4 144.6,181.2 144.9,182.0 145.2,181.6 145.5,180.3 145.8,179.4 146.1,179.3 146.4,179.5 146.7,180.6 147.0,181.7 147.3,181.3 147.6,181.1 147.9,181.8 148.2,181.4 148.5,180.6 148.8,180.6 149.1,180.6 149.4,180.5 149.7,181.4 150.0,181.3 150.3,180.7 150.6,180.9 150.9,181.6 151.2,181.5 151.5,181.2 151.8,180.9 152.1,180.4 152.4,180.3 152.7,181.2 153.0,181.3 153.3,180.9 153.6,181.4 153.9,181.7 154.2,181.1 154.5,180.8 154.8,180.6 155.1,180.2 155.4,181.1 155.7,181.9 156.0,181.4 156.3,180.7 156.6,181.1 156.9,180.9 157.2,180.6 157.5,181.1 157.8,181.0 158.1,180.9 158.4,181.8 158.7,181.9 159.0,180.6 159.3,180.5 159.6,180.8 159.9,181.0 160.2,181.2 160.5,181.6 160.8,180.8 161.1,180.7 161.4,181.6 161.7,181.4 162.0,180.8 162.3,181.0 162.6,181.1 162.9,180.8 163.2,181.1 163.5,180.9 163.8,180.1 164.1,180.6 164.4,181.3 164.7,180.6 165.0,179.9 165.3,180.0 165.6,179.7 165.9,180.1 166.2,180.9 166.5,180.9 166.8,180.7 167.1,181.5 167.4,181.9 167.7,181.1 168.0,180.8 168.3,180.7 168.6,180.6 168.9,181.4 169.2,181.9 169.5,181.2 169.8,180.5 170.1,181.1 170.4,181.2 170.7,180.9 171.0,181.3 171.3,181.3 171.6,181.1 171.9,181.5 172.2,181.6 172.5,180.6 172.8,180.6 173.1,181.3 173.4,181.2 173.7,181.2 174.0,181.4 174.3,181.0 174.6,181.1 174.9,181.7 175.2,181.6 175.5,180.9 175.8,181.1 176.1,181.3 176.4,180.8 176.7,180.8 177.0,180.9 177.3,180.8 177.6,181.7 177.9,182.6 178.2,181.8 178.5,181.0 178.8,180.6 179.1,180.4 179.4,180.2 179.7,181.0 180.0,181.3 180.3,181.3 180.6,182.4 180.9,182.4 181.2,181.2 181.5,180.8 181.8,180.6 182.1,180.4 182.4,180.8 182.7,181.3 183.0,181.0 183.3,181.0 183.6,182.0 183.9,182.2 184.2,181.5" fill="none" stroke="#1a1a1a" stroke-width="1.2" stroke-linejoin="round"/>
<polyline points="191.2,180.5 191.5,180.6 191.8,179.8 192.1,179.9 192.4,180.6 192.7,180.7 193.0,180.9 193.3,181.0 193.6,180.4 193.9,180.2 194.2,180.6 194.5,180.1 194.8,179.3 195.1,179.9 195.4,180.6 195.7,180.5 196.0,180.7 196.3,180.3 196.6,179.3 196.9,179.0 197.2,178.3 197.5,175.6 197.8,172.4 198.1,170.9 198.4,172.8 198.7,175.8 199.0,178.1 199.3,179.1 199.6,179.6 199.9,180.7 200.2,181.2 200.5,180.2 200.8,179.7 201.1,179.8 201.4,179.4 201.7,180.1 202.0,180.6 202.3,180.6 202.6,180.6 202.9,181.4 203.2,181.0 203.5,179.9 203.8,179.9 204.1,179.8 204.4,179.9 204.7,180.6 205.0,180.6 205.3,180.1 205.6,180.5 205.9,181.2 206.2,181.0 206.5,180.5 206.8,180.5 207.1,179.9 207.4,179.8 207.7,180.2 208.0,180.2 208.3,179.8 208.6,181.0 208.9,181.6 209.2,181.1 209.5,180.6 209.8,180.0 210.1,179.4 210.4,179.8 210.7,180.5 211.0,180.5 211.3,180.4 211.6,181.3 211.9,181.1 212.2,180.3 212.5,180.0 212.8,179.9 213.1,179.6 213.4,180.1 213.7,179.5 214.0,178.4 214.3,179.0 214.6,180.3 214.9,180.4 215.2,180.5 215.6,180.5 215.9,180.1 216.2,179.9 216.5,180.8 216.8,180.4 217.1,179.9 217.4,180.4 217.7,180.8 218.0,180.7 218.3,180.5 218.6,180.1 218.9,179.3 219.2,179.9 219.5,180.9 219.8,180.8 220.1,180.7 220.4,180.8 220.7,180.4 221.0,179.9 221.3,179.6 221.6,178.7 221.9,177.7 222.2,177.3 222.5,176.7 222.8,177.0 223.1,178.4 223.4,179.3 223.7,179.3 224.0,179.8 224.3,180.3 224.6,179.7 224.9,179.9 225.2,180.8 225.5,180.6 225.8,180.4 226.1,180.5 226.4,180.5 226.7,180.3 227.0,180.7 227.3,180.1 227.6,179.0 227.9,179.5 228.2,180.5 228.5,180.5 228.8,180.5 229.1,180.4 229.4,178.7 229.7,176.7 230.0,175.4 230.3,176.3 230.6,177.3 230.9,179.5 231.2,180.2 231.5,179.7 231.8,179.4 232.1,177.6 232.4,173.9 232.7,167.2 233.0,160.1 233.3,161.2 233.6,168.6 233.9,159.8 234.2,150.1 234.5,147.7 234.8,155.6 235.1,165.4 235.4,172.5 235.7,176.4 236.0,178.7 236.3,178.3 236.6,178.6 236.9,179.0 237.2,179.1 237.5,179.7 237.8,180.0 238.1,179.6 238.4,180.0 238.7,180.8 239.0,180.3 239.3,179.6 239.6,179.4 239.9,178.1 240.2,175.5 240.5,173.1 240.8,173.7 241.1,176.3 241.4,178.6 241.7,179.9 242.0,179.1 242.3,178.2 242.6,176.2 242.9,172.8 243.2,166.4 243.5,156.4 243.8,144.7 244.1,139.1 244.4,141.5 244.7,146.6 245.0,152.6 245.3,158.7 245.6,164.1 245.9,168.3 246.2,171.7 246.5,174.1 246.8,175.5 247.1,176.7 247.4,178.0 247.7,178.6 248.0,178.8 248.3,179.2 248.6,179.0 248.9,178.9 249.2,179.2 249.5,178.7 249.8,177.9 250.1,178.7 250.4,180.1 250.7,180.5 251.0,180.6 251.3,180.7 251.6,179.6 251.9,179.3 252.2,179.5 252.5,178.8 252.8,178.8 253.1,180.1 253.4,180.7 253.7,180.6 254.0,180.6 254.3,180.1 254.6,179.3 254.9,179.8 255.2,180.1 255.5,179.1 255.8,178.3 256.1,177.6 256.4,176.7 256.7,177.1 257.0,178.7 257.3,179.1 257.6,179.6 257.9,180.7 258.2,180.4 258.5,179.3 258.8,179.5 259.1,179.9 259.4,180.2 259.7,180.6 260.0,180.7 260.3,180.0 260.6,180.0 260.9,180.3 261.2,180.0 261.5,179.7 261.8,180.3 262.1,180.3 262.4,180.3 262.7,180.3 263.0,179.7 263.3,179.0 263.6,179.8 263.9,180.5 264.3,180.2 264.6,179.8 264.9,179.0 265.2,177.5 265.5,176.4 265.8,176.5 266.1,177.2 266.4,178.3 266.7,179.8 267.0,179.5 267.3,178.7 267.6,177.5 267.9,176.0 268.2,173.6 268.5,170.3 268.8,165.9 269.1,160.9 269.4,157.6 269.7,157.7 270.0,160.0 270.3,163.5 270.6,167.4 270.9,170.7 271.2,173.4 271.5,175.6 271.8,176.8 272.1,176.7 272.4,177.8 272.7,179.1 273.0,179.3 273.3,179.9 273.6,179.7 273.9,179.0 274.2,179.1 274.5,179.6 274.8,179.2 275.1,179.3 275.4,180.2 275.7,180.5 276.0,180.1 276.3,180.1 276.6,179.4 276.9,178.9 277.2,180.0 277.5,180.7 277.8,180.2 278.1,180.2 278.4,180.4 278.7,180.0 279.0,179.9 279.3,180.1 279.6,179.5 279.9,179.7 280.2,180.6 280.5,180.4 280.8,179.3 281.1,179.1 281.4,179.4 281.7,179.7 282.0,180.4 282.3,180.2 282.6,179.3 282.9,179.4 283.2,180.1 283.5,180.1 283.8,180.4 284.1,180.8 284.4,180.8 284.7,180.6 285.0,180.3 285.3,179.3 285.6,178.6 285.9,179.6 286.2,180.5 286.5,180.6 286.8,180.9 287.1,180.9 287.4,180.3 287.7,180.2 288.0,180.3 288.3,179.2" fill="none" stroke="#1a1a1a" stroke-width="1.2" stroke-linejoin="round"/>
<polyline points="311.5,182.1 311.8,182.2 312.1,182.3 312.4,181.8 312.7,181.8 313.0,182.4 313.3,181.9 313.6,180.9 313.9,180.9 314.2,181.4 314.5,181.6 314.8,182.5 315.1,182.7 315.4,182.0 315.7,182.2 316.0,182.3 316.3,181.2 316.6,180.5 316.9,181.3 317.2,181.9 317.5,182.2 317.8,182.8 318.1,182.2 318.4,181.4 318.7,181.7 319.0,181.9 319.3,181.3 319.6,181.4 319.9,181.9 320.2,182.0 320.5,182.0 320.8,182.1 321.1,181.6 321.4,181.3 321.7,182.2 322.0,182.2 322.3,181.5 322.6,181.5 322.9,181.5 323.2,181.4 323.5,182.3 323.8,182.4 324.1,181.7 324.4,181.5 324.7,182.1 325.0,181.5 325.3,181.2 325.6,181.7 325.9,181.7 326.2,182.1 326.5,182.8 326.8,182.2 327.1,181.0 327.4,181.1 327.7,181.6 328.0,181.4 328.3,181.8 328.6,182.2 328.9,182.0 329.2,182.1 329.5,182.3 329.8,181.3 330.1,180.8 330.4,181.5 330.7,181.9 331.0,181.8 331.3,182.1 331.6,181.9 331.9,181.3 332.2,182.0 332.5,182.3 332.8,181.4 333.1,181.4 333.4,181.7 333.7,181.3 334.0,181.3 334.3,181.6 334.6,181.1 334.9,181.3 335.2,182.2 335.5,182.0 335.8,180.7 336.1,179.7 336.4,178.6 336.7,176.7 337.0,173.5 337.3,170.2 337.6,169.4 337.9,172.2 338.2,175.9 338.5,178.4 338.8,179.5 339.1,180.6 339.4,181.2 339.7,181.4 340.0,182.0 340.3,181.3 340.6,180.4 340.9,180.9 341.2,181.4 341.5,181.2 341.8,181.1 342.1,181.4 342.4,180.9 342.7,180.3 343.0,179.2 343.3,177.1 343.6,173.9 343.9,169.3 344.2,163.7 344.5,159.6 344.8,160.5 345.1,165.6 345.4,171.1 345.7,175.6 346.0,178.3 346.3,179.0 346.6,179.5 346.9,180.4 347.2,180.6 347.5,180.7 347.8,181.4 348.1,181.7 348.4,182.0 348.7,182.3 349.0,181.5 349.3,179.9 349.6,179.2 349.9,178.0 350.2,175.5 350.5,172.5 350.8,173.6 351.1,176.3 351.4,172.2 351.7,165.6 352.0,156.6 352.3,148.6 352.6,147.3 352.9,153.7 353.2,162.6 353.5,170.2 353.8,175.1 354.1,177.8 354.4,179.8 354.7,181.0 355.0,180.5 355.3,180.2 355.6,180.4 355.9,180.1 356.2,180.0 356.5,180.6 356.8,180.5 357.1,180.5 357.4,181.3 357.7,180.6 358.0,178.7 358.3,177.4 358.6,175.2 358.9,171.3 359.2,165.1 359.5,155.8 359.8,144.5 360.1,135.3 360.4,133.8 360.7,141.0 361.0,152.0 361.3,162.2 361.6,169.6 361.9,174.3 362.2,177.1 362.5,178.4 362.8,178.4 363.1,179.6 363.4,180.6 363.7,180.7 364.0,180.7 364.3,180.8 364.6,179.9 364.9,179.5 365.2,179.4 365.5,178.5 365.8,177.2 366.1,175.2 366.4,171.2 366.7,164.3 367.0,154.4 367.3,142.6 367.6,132.7 367.9,131.2 368.2,139.0 368.5,150.5 368.8,161.2 369.1,169.1 369.4,174.0 369.7,176.7 370.0,178.3 370.3,179.3 370.6,180.0 370.9,180.9 371.2,180.7 371.5,179.8 371.8,179.7 372.1,180.4 372.4,180.7 372.7,181.3 373.0,181.3 373.3,180.5 373.6,180.2 373.9,179.5 374.2,177.1 374.5,173.6 374.8,168.3 375.1,161.4 375.4,155.1 375.7,154.0 376.0,159.0 376.3,166.1 376.6,172.4 376.9,176.5 377.2,178.5 377.5,179.3 377.8,180.0 378.1,180.2 378.4,180.6 378.7,181.2 379.0,181.2 379.3,181.2 379.6,182.1 379.9,182.2 380.2,181.1 380.5,180.8 380.8,181.0 381.1,181.1 381.4,181.9 381.7,182.3 382.0,181.7 382.3,181.6 382.6,181.8 382.9,181.4 383.2,180.9 383.5,181.3 383.8,181.5 384.1,181.9 384.4,182.6 384.7,182.2 385.0,181.2 385.3,181.1 385.6,181.7 385.9,181.3 386.2,181.3 386.5,181.6 386.8,181.4 387.1,181.6 387.4,182.2 387.7,181.4 388.0,180.8 388.3,181.2 388.6,180.9 388.9,180.0 389.2,179.4 389.5,178.4 389.8,176.9 390.1,174.4 390.4,171.0 390.7,167.3 391.0,165.5 391.3,167.1 391.6,170.4 391.9,174.0 392.2,176.9 392.5,178.6 392.8,180.1 393.1,181.6 393.4,181.9 393.7,181.1 394.0,180.9 394.3,180.9 394.6,180.8 394.9,181.1 395.2,181.4 395.5,181.2 395.8,181.4 396.1,182.3 396.4,182.1 396.7,181.7 397.0,181.8 397.3,181.8 397.6,181.3 397.9,181.5 398.2,181.2 398.5,180.6 398.8,181.6 399.1,182.7 399.4,182.4 399.7,182.1 400.0,182.1 400.3,181.5 400.6,181.2 400.9,181.5 401.2,181.2 401.5,181.2 401.8,182.2 402.1,182.6 402.4,181.8 402.7,181.6 403.0,181.7 403.3,181.5 403.6,181.6 403.9,181.3 404.2,179.5 404.5,179.1 404.8,180.2 405.1,180.9 405.4,181.2 405.7,181.9 406.0,182.2 406.3,182.2 406.6,182.6 406.9,182.1 407.2,180.8 407.5,180.9 407.8,181.6 408.1,181.7 408.4,181.7 408.7,182.2 409.0,181.7 409.3,182.1" fill="none" stroke="#6a6a6a" stroke-width="1.0" stroke-linejoin="round"/>
<polyline points="417.3,181.1 417.6,180.8 417.9,180.8 418.2,181.7 418.5,181.9 418.8,181.1 419.1,181.1 419.4,181.0 419.7,180.4 420.0,180.5 420.3,180.7 420.6,180.3 420.9,180.6 421.2,181.9 421.5,181.6 421.8,180.6 422.1,180.1 422.4,180.0 422.7,180.0 423.0,180.5 423.3,180.8 423.6,180.6 423.9,181.4 424.2,182.1 424.5,181.3 424.8,180.7 425.1,180.7 425.4,180.0 425.7,179.8 426.0,180.5 426.3,180.4 426.6,180.2 426.9,180.9 427.2,181.1 427.5,180.8 427.8,181.0 428.1,181.0 428.4,180.8 428.7,181.3 429.0,181.4 429.3,180.3 429.6,179.5 429.9,179.6 430.2,180.0 430.5,180.7 430.8,180.9 431.1,180.5 431.4,180.4 431.7,181.2 432.0,181.4 432.3,180.8 432.6,181.2 432.9,181.4 433.2,181.0 433.5,180.6 433.8,180.6 434.1,180.0 434.4,180.5 434.7,181.5 435.0,180.5 435.3,178.3 435.6,177.4 435.9,178.3 436.2,179.5 436.5,180.4 436.8,179.9 437.1,178.6 437.4,176.7 437.7,172.4 438.0,168.3 438.3,170.2 438.6,175.1 438.9,178.3 439.2,179.9 439.5,180.8 439.8,180.2 440.1,180.0 440.4,180.7 440.7,181.2 441.0,180.7 441.3,181.1 441.6,181.0 442.0,180.7 442.3,181.1 442.6,181.1 442.9,180.2 443.2,180.4 443.5,181.3 443.8,181.3 444.1,180.9 444.4,180.9 444.7,180.5 445.0,180.3 445.3,181.1 445.6,181.1 445.9,180.8 446.2,181.0 446.5,181.1 446.8,180.5 447.1,180.0 447.4,180.1 447.7,180.1 448.0,180.7 448.3,181.6 448.6,181.0 448.9,180.1 449.2,180.2 449.5,179.9 449.8,178.5 450.1,176.8 450.4,173.5 450.7,172.3 451.0,175.3 451.3,177.8 451.6,175.8 451.9,171.9 452.2,164.4 452.5,151.7 452.8,136.2 453.1,127.2 453.4,133.5 453.7,148.7 454.0,162.5 454.3,171.2 454.6,175.5 454.9,177.6 455.2,179.0 455.5,178.7 455.8,178.5 456.1,176.8 456.4,176.5 456.7,178.4 457.0,181.2 457.3,181.4 457.6,181.0 457.9,180.9 458.2,180.4 458.5,179.8 458.8,180.0 459.1,179.5 459.4,179.1 459.7,179.6 460.0,179.6 460.3,177.5 460.6,174.6 460.9,169.3 461.2,162.2 461.5,156.6 461.8,157.7 462.1,163.9 462.4,170.5 462.7,175.4 463.0,178.0 463.3,179.4 463.6,180.4 463.9,180.7 464.2,180.4 464.5,180.3 464.8,179.9 465.1,178.9 465.4,179.0 465.7,179.8 466.0,179.7 466.3,179.3 466.6,177.5 466.9,176.2 467.2,175.9 467.5,173.1 467.8,167.4 468.1,157.4 468.4,143.8 468.7,129.4 469.0,122.6 469.3,126.8 469.6,136.6 469.9,147.9 470.2,158.1 470.5,165.9 470.8,170.9 471.1,173.9 471.4,175.9 471.7,177.1 472.0,177.8 472.3,178.6 472.6,178.9 472.9,179.1 473.2,179.9 473.5,180.2 473.8,179.8 474.1,179.6 474.4,180.3 474.7,179.8 475.0,179.2 475.3,177.8 475.6,175.2 475.9,171.2 476.2,167.1 476.5,165.1 476.8,167.6 477.1,172.2 477.4,176.0 477.7,177.7 478.0,178.9 478.3,179.3 478.6,179.2 478.9,180.4 479.2,181.6 479.5,181.5 479.8,181.1 480.1,180.8 480.4,180.3 480.7,180.1 481.0,180.8 481.3,180.5 481.6,180.1 481.9,181.1 482.2,181.5 482.5,181.1 482.8,181.0 483.1,180.9 483.4,180.8 483.7,180.8 484.0,181.2 484.3,180.1 484.6,180.1 484.9,180.9 485.2,181.4 485.5,181.3 485.8,181.5 486.1,180.9 486.4,180.3 486.7,180.6 487.0,180.6 487.3,180.0 487.6,180.4 487.9,181.4 488.2,181.2 488.5,180.8 488.8,180.4 489.1,179.4 489.4,179.3 489.7,179.9 490.0,179.4 490.3,178.2 490.6,176.7 491.0,173.9 491.3,169.8 491.6,165.3 491.9,161.9 492.2,161.8 492.5,165.4 492.8,170.1 493.1,173.8 493.4,176.5 493.7,178.5 494.0,179.3 494.3,179.9 494.6,180.5 494.9,179.9 495.2,179.6 495.5,180.3 495.8,180.6 496.1,180.3 496.4,180.8 496.7,181.4 497.0,181.2 497.3,181.3 497.6,181.0 497.9,179.8 498.2,179.7 498.5,180.7 498.8,181.1 499.1,181.0 499.4,181.6 499.7,181.4 500.0,180.9 500.3,181.0 500.6,180.6 500.9,179.9 501.2,180.5 501.5,181.2 501.8,181.0 502.1,181.0 502.4,181.2 502.7,180.8 503.0,181.1 503.3,181.7 503.6,181.0 503.9,180.4 504.2,180.8 504.5,181.0 504.8,180.5 505.1,180.8 505.4,181.0 505.7,181.2 506.0,181.7 506.3,181.8 506.6,180.7 506.9,180.2 507.2,180.7 507.5,180.9 507.8,181.0 508.1,181.2 508.4,180.7 508.7,180.5 509.0,181.4 509.3,181.2 509.6,180.7 509.9,181.0 510.2,181.6 510.5,181.3 510.8,180.8 511.1,180.5 511.4,179.9 511.7,180.4 512.0,181.6 512.3,181.7 512.6,181.3 512.9,181.6 513.2,181.3 513.5,180.7 513.8,180.6 514.1,180.2 514.4,180.1 514.7,180.9 515.0,181.9 515.3,181.4" fill="none" stroke="#6a6a6a" stroke-width="1.0" stroke-linejoin="round"/>
<polyline points="87.3,259.7 87.6,258.7 87.9,258.3 88.2,258.3 88.5,258.2 88.8,259.1 89.1,259.6 89.4,259.2 89.7,259.2 90.0,259.7 90.3,259.1 90.6,258.4 90.9,258.7 91.2,258.7 91.5,258.8 91.8,259.6 92.1,259.3 92.4,258.3 92.7,258.5 93.0,259.3 93.3,259.2 93.6,259.3 93.9,259.3 94.2,258.9 94.5,258.9 94.8,259.1 95.1,258.5 95.4,258.0 95.7,259.1 96.0,259.7 96.3,259.5 96.6,259.5 96.9,259.1 97.2,258.5 97.5,258.8 97.8,259.2 98.1,258.7 98.4,258.5 98.7,259.1 99.0,259.0 99.3,258.8 99.6,259.2 99.9,258.7 100.2,258.5 100.5,259.0 100.8,257.7 101.1,254.9 101.4,252.4 101.7,253.2 102.0,255.9 102.3,258.3 102.6,259.4 102.9,259.0 103.2,258.7 103.5,259.1 103.8,258.5 104.1,258.0 104.4,258.5 104.7,258.9 105.0,259.2 105.3,259.7 105.6,259.2 105.9,258.2 106.2,258.2 106.5,258.6 106.8,257.8 107.1,257.7 107.4,258.4 107.7,258.3 108.0,258.7 108.3,259.4 108.6,258.9 108.9,258.4 109.2,259.1 109.5,259.4 109.8,258.7 110.1,258.7 110.4,258.5 110.7,258.4 111.0,258.7 111.3,259.0 111.6,257.7 111.9,257.1 112.2,257.5 112.5,257.6 112.8,257.6 113.1,258.5 113.4,258.7 113.7,259.1 114.0,259.7 114.3,258.8 114.6,256.9 114.9,255.4 115.2,254.7 115.5,253.6 115.8,254.1 116.1,255.6 116.4,257.1 116.7,258.3 117.0,259.0 117.3,258.2 117.6,256.8 117.9,255.8 118.2,254.0 118.5,251.1 118.8,250.0 119.1,252.1 119.4,251.1 119.7,242.8 120.0,226.4 120.3,205.9 120.6,200.8 120.9,215.1 121.2,232.6 121.5,245.0 121.8,244.9 122.1,243.6 122.4,248.9 122.7,254.5 123.0,257.9 123.3,257.3 123.6,256.4 123.9,255.3 124.2,252.4 124.5,248.3 124.8,244.3 125.1,243.3 125.4,246.9 125.7,251.6 126.0,254.8 126.3,256.3 126.6,257.3 126.9,257.7 127.2,258.0 127.5,258.6 127.8,258.5 128.1,258.0 128.4,258.4 128.7,259.2 129.0,258.5 129.3,257.5 129.6,255.7 129.9,253.2 130.2,250.9 130.5,250.7 130.8,252.4 131.1,254.7 131.4,257.0 131.7,258.6 132.0,258.6 132.3,258.5 132.6,258.2 132.9,257.6 133.2,257.7 133.5,257.5 133.8,255.3 134.1,252.7 134.4,249.2 134.7,245.4 135.0,243.6 135.3,245.6 135.6,249.4 135.9,252.9 136.2,255.6 136.5,257.3 136.8,256.7 137.1,256.9 137.4,257.8 137.7,258.2 138.0,259.1 138.3,259.6 138.6,259.2 138.9,258.8 139.2,259.3 139.5,258.5 139.8,257.9 140.1,258.3 140.4,258.6 140.7,258.8 141.0,259.2 141.3,259.2 141.6,258.9 141.9,259.3 142.2,259.8 142.5,259.1 142.8,258.4 143.1,258.1 143.4,258.0 143.7,258.2 144.0,259.0 144.3,259.2 144.6,259.1 144.9,259.8 145.2,259.7 145.5,258.4 145.8,257.7 146.1,257.7 146.4,257.6 146.7,258.3 147.0,259.1 147.3,258.5 147.6,257.9 147.9,257.8 148.2,255.9 148.5,252.9 148.8,248.2 149.1,241.9 149.4,237.1 149.7,238.4 150.0,244.3 150.3,250.0 150.6,254.1 150.9,257.0 151.2,257.9 151.5,258.0 151.8,257.9 152.1,257.5 152.4,257.7 152.7,258.6 153.0,258.7 153.3,258.4 153.6,259.2 153.9,259.5 154.2,258.9 154.5,258.6 154.8,258.3 155.1,258.2 155.4,258.8 155.7,259.6 156.0,259.1 156.3,258.7 156.6,259.0 156.9,258.7 157.2,258.5 157.5,259.0 157.8,258.9 158.1,258.9 158.4,259.6 158.7,259.5 159.0,258.5 159.3,258.3 159.6,258.7 159.9,258.8 160.2,259.1 160.5,259.3 160.8,258.9 161.1,258.6 161.4,259.4 161.7,259.2 162.0,258.6 162.3,258.9 162.6,259.1 162.9,258.9 163.2,258.9 163.5,258.8 163.8,258.3 164.1,258.8 164.4,259.8 164.7,259.6 165.0,259.1 165.3,258.8 165.6,258.3 165.9,258.4 166.2,259.0 166.5,258.9 166.8,258.8 167.1,259.4 167.4,259.7 167.7,259.1 168.0,258.6 168.3,258.7 168.6,258.6 168.9,259.1 169.2,259.8 169.5,258.9 169.8,258.4 170.1,259.0 170.4,259.1 170.7,258.8 171.0,259.0 171.3,259.0 171.6,258.9 171.9,259.4 172.2,259.5 172.5,258.2 172.8,258.4 173.1,259.0 173.4,259.0 173.7,259.0 174.0,259.2 174.3,258.8 174.6,258.9 174.9,259.6 175.2,259.4 175.5,258.6 175.8,258.8 176.1,259.0 176.4,258.5 176.7,258.7 177.0,258.6 177.3,258.5 177.6,259.4 177.9,260.4 178.2,259.6 178.5,258.7 178.8,258.6 179.1,258.2 179.4,258.1 179.7,258.9 180.0,259.1 180.3,259.0 180.6,260.1 180.9,260.1 181.2,259.1 181.5,258.5 181.8,258.4 182.1,258.2 182.4,258.5 182.7,259.1 183.0,258.8 183.3,258.9 183.6,259.7 183.9,260.0 184.2,259.3" fill="none" stroke="#1a1a1a" stroke-width="1.2" stroke-linejoin="round"/>
<polyline points="191.2,257.0 191.5,257.2 191.8,256.3 192.1,256.3 192.4,257.2 192.7,257.2 193.0,257.4 193.3,257.7 193.6,256.9 193.9,256.8 194.2,257.2 194.5,256.5 194.8,255.9 195.1,256.5 195.4,257.2 195.7,257.4 196.0,257.5 196.3,257.3 196.6,256.5 196.9,256.7 197.2,257.1 197.5,256.5 197.8,255.4 198.1,254.6 198.4,252.5 198.7,251.1 199.0,252.7 199.3,254.7 199.6,255.8 199.9,257.3 200.2,257.7 200.5,256.9 200.8,256.3 201.1,256.4 201.4,256.1 201.7,256.5 202.0,257.3 202.3,257.0 202.6,257.2 202.9,257.9 203.2,257.6 203.5,256.4 203.8,256.4 204.1,256.5 204.4,256.4 204.7,257.2 205.0,257.3 205.3,256.6 205.6,257.0 205.9,257.8 206.2,257.4 206.5,257.1 206.8,257.1 207.1,256.5 207.4,256.3 207.7,256.8 208.0,256.6 208.3,256.5 208.6,257.4 208.9,258.1 209.2,257.6 209.5,257.1 209.8,256.6 210.1,255.9 210.4,256.3 210.7,257.2 211.0,256.9 211.3,256.9 211.6,257.6 211.9,257.4 212.2,256.9 212.5,256.7 212.8,256.3 213.1,256.4 213.4,257.1 213.7,257.4 214.0,256.7 214.3,256.7 214.6,257.1 214.9,257.0 215.2,257.0 215.6,257.1 215.9,256.5 216.2,256.4 216.5,257.1 216.8,256.9 217.1,256.2 217.4,256.8 217.7,257.1 218.0,256.9 218.3,256.8 218.6,256.3 218.9,255.5 219.2,255.8 219.5,256.9 219.8,256.4 220.1,256.1 220.4,255.5 220.7,253.6 221.0,251.0 221.3,247.4 221.6,243.3 221.9,241.1 222.2,242.0 222.5,243.9 222.8,246.0 223.1,248.3 223.4,250.4 223.7,252.1 224.0,253.5 224.3,254.4 224.6,254.6 224.9,255.0 225.2,256.4 225.5,256.5 225.8,256.3 226.1,256.5 226.4,256.6 226.7,256.4 227.0,256.8 227.3,256.3 227.6,255.4 227.9,255.8 228.2,256.8 228.5,257.0 228.8,256.5 229.1,255.6 229.4,252.7 229.7,250.6 230.0,251.5 230.3,253.7 230.6,254.5 230.9,255.2 231.2,255.4 231.5,254.4 231.8,252.9 232.1,250.0 232.4,244.0 232.7,233.9 233.0,220.3 233.3,209.0 233.6,210.8 233.9,223.6 234.2,236.8 234.5,245.9 234.8,246.1 235.1,242.8 235.4,243.4 235.7,247.4 236.0,251.3 236.3,252.5 236.6,250.2 236.9,247.7 237.2,246.1 237.5,246.5 237.8,248.6 238.1,251.0 238.4,253.2 238.7,254.8 239.0,252.1 239.3,250.1 239.6,250.6 239.9,252.8 240.2,254.5 240.5,255.7 240.8,255.5 241.1,254.6 241.4,255.2 241.7,255.8 242.0,254.0 242.3,251.8 242.6,248.0 242.9,241.7 243.2,233.7 243.5,226.8 243.8,225.6 244.1,231.5 244.4,240.0 244.7,246.9 245.0,251.1 245.3,253.4 245.6,254.3 245.9,254.5 246.2,255.1 246.5,255.6 246.8,255.2 247.1,255.6 247.4,256.7 247.7,257.1 248.0,257.0 248.3,256.9 248.6,256.7 248.9,256.4 249.2,256.6 249.5,256.1 249.8,255.2 250.1,256.1 250.4,257.3 250.7,257.4 251.0,257.7 251.3,257.7 251.6,256.6 251.9,256.3 252.2,256.5 252.5,255.9 252.8,255.8 253.1,256.8 253.4,257.6 253.7,257.4 254.0,257.4 254.3,256.7 254.6,256.0 254.9,256.1 255.2,256.0 255.5,254.6 255.8,253.5 256.1,253.2 256.4,253.3 256.7,254.4 257.0,255.7 257.3,256.1 257.6,256.4 257.9,257.2 258.2,256.8 258.5,255.9 258.8,256.1 259.1,256.5 259.4,256.6 259.7,257.1 260.0,257.1 260.3,256.2 260.6,256.1 260.9,256.7 261.2,256.3 261.5,255.9 261.8,256.4 262.1,256.4 262.4,256.5 262.7,256.6 263.0,255.8 263.3,255.0 263.6,255.6 263.9,256.4 264.3,255.9 264.6,255.8 264.9,255.3 265.2,254.4 265.5,253.7 265.8,253.3 266.1,252.1 266.4,250.6 266.7,249.1 267.0,246.9 267.3,244.2 267.6,241.5 267.9,238.9 268.2,236.9 268.5,236.3 268.8,236.9 269.1,238.8 269.4,241.6 269.7,244.8 270.0,247.5 270.3,249.8 270.6,251.8 270.9,253.0 271.2,254.0 271.5,255.1 271.8,255.0 272.1,254.5 272.4,255.3 272.7,256.2 273.0,256.2 273.3,256.8 273.6,256.6 273.9,255.8 274.2,256.0 274.5,256.4 274.8,256.0 275.1,255.9 275.4,256.9 275.7,257.1 276.0,256.8 276.3,256.7 276.6,256.1 276.9,255.6 277.2,256.6 277.5,257.3 277.8,256.8 278.1,256.8 278.4,256.9 278.7,256.6 279.0,256.6 279.3,256.6 279.6,256.2 279.9,256.2 280.2,257.1 280.5,257.0 280.8,256.5 281.1,256.8 281.4,257.0 281.7,257.0 282.0,257.2 282.3,256.8 282.6,255.8 282.9,255.9 283.2,256.8 283.5,256.7 283.8,256.9 284.1,257.6 284.4,257.5 284.7,257.2 285.0,256.9 285.3,256.0 285.6,255.1 285.9,256.0 286.2,257.0 286.5,257.1 286.8,257.4 287.1,257.6 287.4,257.0 287.7,256.7 288.0,256.9 288.3,255.9" fill="none" stroke="#1a1a1a" stroke-width="1.2" stroke-linejoin="round"/>
<polyline points="311.5,259.1 311.8,259.0 312.1,259.2 312.4,259.0 312.7,258.8 313.0,259.3 313.3,258.9 313.6,257.7 313.9,257.9 314.2,258.5 314.5,258.6 314.8,259.5 315.1,259.7 315.4,259.2 315.7,259.2 316.0,259.3 316.3,258.1 316.6,257.6 316.9,258.3 317.2,258.9 317.5,259.2 317.8,259.8 318.1,259.2 318.4,258.4 318.7,258.8 319.0,258.9 319.3,258.2 319.6,258.5 319.9,259.0 320.2,258.9 320.5,258.9 320.8,259.1 321.1,258.5 321.4,258.2 321.7,259.1 322.0,259.3 322.3,258.4 322.6,258.5 322.9,258.5 323.2,258.6 323.5,259.3 323.8,259.4 324.1,258.5 324.4,258.5 324.7,259.2 325.0,258.5 325.3,258.2 325.6,258.7 325.9,258.8 326.2,259.2 326.5,259.9 326.8,259.1 327.1,258.1 327.4,258.0 327.7,258.5 328.0,258.4 328.3,258.8 328.6,259.2 328.9,259.1 329.2,259.1 329.5,259.5 329.8,258.3 330.1,257.7 330.4,258.5 330.7,258.8 331.0,258.9 331.3,259.0 331.6,258.7 331.9,258.5 332.2,259.1 332.5,259.4 332.8,258.5 333.1,258.3 333.4,258.8 333.7,258.5 334.0,258.3 334.3,258.6 334.6,258.5 334.9,258.7 335.2,259.7 335.5,259.6 335.8,258.6 336.1,258.4 336.4,258.3 336.7,258.4 337.0,258.7 337.3,259.1 337.6,258.5 337.9,258.7 338.2,259.2 338.5,258.5 338.8,258.0 339.1,258.3 339.4,258.2 339.7,258.0 340.0,258.1 340.3,257.7 340.6,257.3 340.9,258.0 341.2,258.9 341.5,258.7 341.8,258.8 342.1,259.2 342.4,259.1 342.7,259.0 343.0,258.9 343.3,257.8 343.6,257.6 343.9,258.8 344.2,259.1 344.5,258.8 344.8,258.9 345.1,259.0 345.4,258.6 345.7,259.2 346.0,259.2 346.3,258.1 346.6,258.0 346.9,258.3 347.2,258.3 347.5,258.3 347.8,258.8 348.1,259.0 348.4,259.4 348.7,259.8 349.0,258.9 349.3,257.4 349.6,257.3 349.9,257.6 350.2,257.6 350.5,258.2 350.8,258.5 351.1,257.8 351.4,256.9 351.7,254.4 352.0,251.6 352.3,249.2 352.6,248.9 352.9,250.7 353.2,253.3 353.5,255.6 353.8,257.0 354.1,257.7 354.4,258.8 354.7,259.2 355.0,258.4 355.3,257.9 355.6,258.0 355.9,257.5 356.2,257.6 356.5,258.3 356.8,258.3 357.1,258.5 357.4,259.6 357.7,259.2 358.0,257.8 358.3,257.2 358.6,257.0 358.9,256.7 359.2,257.0 359.5,256.9 359.8,255.6 360.1,253.9 360.4,250.7 360.7,245.3 361.0,237.9 361.3,230.7 361.6,227.4 361.9,230.8 362.2,238.1 362.5,245.2 362.8,250.3 363.1,253.7 363.4,255.8 363.7,257.0 364.0,257.3 364.3,257.7 364.6,257.4 364.9,257.5 365.2,258.1 365.5,257.5 365.8,257.4 366.1,258.4 366.4,258.9 366.7,258.6 367.0,258.4 367.3,258.0 367.6,257.5 367.9,258.0 368.2,257.5 368.5,255.8 368.8,254.3 369.1,252.3 369.4,250.0 369.7,248.7 370.0,249.5 370.3,251.5 370.6,253.9 370.9,255.9 371.2,257.1 371.5,256.6 371.8,256.9 372.1,257.6 372.4,257.9 372.7,258.6 373.0,259.0 373.3,258.3 373.6,258.3 373.9,258.7 374.2,257.8 374.5,257.1 374.8,257.4 375.1,257.5 375.4,257.1 375.7,256.7 376.0,255.1 376.3,252.4 376.6,248.7 376.9,243.5 377.2,238.0 377.5,235.4 377.8,237.9 378.1,243.2 378.4,248.5 378.7,252.6 379.0,255.0 379.3,256.5 379.6,257.8 379.9,258.2 380.2,257.3 380.5,257.2 380.8,257.5 381.1,257.6 381.4,258.6 381.7,259.0 382.0,258.5 382.3,258.3 382.6,258.6 382.9,258.3 383.2,257.8 383.5,258.1 383.8,258.3 384.1,258.7 384.4,259.1 384.7,258.2 385.0,256.5 385.3,255.4 385.6,255.3 385.9,255.6 386.2,256.8 386.5,257.9 386.8,258.1 387.1,258.4 387.4,259.1 387.7,258.5 388.0,258.0 388.3,258.4 388.6,258.4 388.9,257.8 389.2,257.7 389.5,257.6 389.8,257.7 390.1,258.6 390.4,259.4 390.7,258.5 391.0,257.8 391.3,257.8 391.6,257.0 391.9,256.7 392.2,256.9 392.5,256.9 392.8,256.9 393.1,255.9 393.4,253.5 393.7,252.7 394.0,252.9 394.3,249.4 394.6,242.8 394.9,232.2 395.2,218.3 395.5,205.7 395.8,203.2 396.1,210.7 396.4,222.0 396.7,233.0 397.0,241.9 397.3,247.9 397.6,251.5 397.9,253.7 398.2,254.9 398.5,254.8 398.8,256.1 399.1,257.6 399.4,257.7 399.7,257.5 400.0,257.6 400.3,257.2 400.6,257.3 400.9,257.5 401.2,257.4 401.5,257.3 401.8,258.4 402.1,258.8 402.4,258.1 402.7,258.1 403.0,258.1 403.3,257.9 403.6,258.5 403.9,258.8 404.2,257.9 404.5,257.5 404.8,258.2 405.1,258.2 405.4,258.0 405.7,258.5 406.0,258.8 406.3,258.8 406.6,259.3 406.9,258.8 407.2,257.6 407.5,257.7 407.8,258.2 408.1,258.3 408.4,258.5 408.7,258.9 409.0,258.5 409.3,258.6" fill="none" stroke="#6a6a6a" stroke-width="1.0" stroke-linejoin="round"/>
<polyline points="417.3,258.5 417.6,258.5 417.9,258.2 418.2,259.1 418.5,259.5 418.8,258.6 419.1,258.4 419.4,258.4 419.7,258.1 420.0,258.0 420.3,258.3 420.6,257.6 420.9,258.1 421.2,259.3 421.5,259.6 421.8,259.0 422.1,258.7 422.4,258.1 422.7,257.7 423.0,258.1 423.3,258.3 423.6,258.1 423.9,258.8 424.2,259.4 424.5,258.9 424.8,258.3 425.1,258.2 425.4,257.6 425.7,258.0 426.0,258.2 426.3,256.7 426.6,255.2 426.9,256.7 427.2,257.8 427.5,258.1 427.8,258.3 428.1,258.5 428.4,258.1 428.7,258.5 429.0,258.6 429.3,257.1 429.6,256.1 429.9,256.8 430.2,257.8 430.5,258.3 430.8,258.6 431.1,258.1 431.4,257.9 431.7,258.6 432.0,259.0 432.3,258.4 432.6,258.5 432.9,258.9 433.2,258.4 433.5,258.2 433.8,257.7 434.1,257.0 434.4,256.4 434.7,256.4 435.0,257.1 435.3,257.7 435.6,258.1 435.9,258.0 436.2,257.6 436.5,257.2 436.8,255.7 437.1,253.3 437.4,254.0 437.7,257.2 438.0,257.6 438.3,257.7 438.6,258.2 438.9,258.0 439.2,257.6 439.5,256.9 439.8,256.0 440.1,256.4 440.4,257.9 440.7,258.6 441.0,258.2 441.3,258.6 441.6,258.6 442.0,258.3 442.3,258.7 442.6,258.7 442.9,257.8 443.2,258.1 443.5,259.1 443.8,259.0 444.1,258.5 444.4,258.4 444.7,258.0 445.0,258.0 445.3,258.8 445.6,258.9 445.9,258.4 446.2,258.8 446.5,259.0 446.8,258.2 447.1,258.0 447.4,257.9 447.7,257.8 448.0,258.8 448.3,259.7 448.6,259.1 448.9,258.3 449.2,258.5 449.5,258.2 449.8,257.9 450.1,258.2 450.4,258.0 450.7,258.1 451.0,259.0 451.3,259.4 451.6,258.5 451.9,258.3 452.2,258.7 452.5,258.3 452.8,257.9 453.1,257.7 453.4,256.9 453.7,256.5 454.0,256.6 454.3,253.8 454.6,249.8 454.9,248.6 455.2,250.6 455.5,253.2 455.8,254.9 456.1,255.9 456.4,256.3 456.7,257.5 457.0,259.0 457.3,259.2 457.6,258.9 457.9,258.7 458.2,258.2 458.5,257.7 458.8,257.9 459.1,257.8 459.4,257.4 459.7,258.3 460.0,259.0 460.3,258.7 460.6,258.6 460.9,258.8 461.2,258.4 461.5,257.9 461.8,257.1 462.1,254.6 462.4,252.1 462.7,252.9 463.0,255.9 463.3,257.6 463.6,258.7 463.9,259.0 464.2,258.4 464.5,258.4 464.8,258.2 465.1,257.4 465.4,257.6 465.7,258.5 466.0,258.7 466.3,258.2 466.6,257.9 466.9,255.4 467.2,252.6 467.5,251.9 467.8,254.8 468.1,256.6 468.4,257.8 468.7,258.1 469.0,257.2 469.3,255.8 469.6,252.7 469.9,248.2 470.2,249.8 470.5,254.6 470.8,257.2 471.1,257.4 471.4,257.9 471.7,257.5 472.0,256.8 472.3,255.5 472.6,253.2 472.9,254.0 473.2,257.0 473.5,258.5 473.8,258.0 474.1,257.3 474.4,256.1 474.7,252.4 475.0,250.0 475.3,252.9 475.6,255.3 475.9,257.0 476.2,258.7 476.5,258.6 476.8,257.3 477.1,254.3 477.4,249.7 477.7,248.8 478.0,253.3 478.3,255.8 478.6,256.6 478.9,258.0 479.2,259.4 479.5,259.2 479.8,258.6 480.1,258.6 480.4,258.1 480.7,257.8 481.0,258.5 481.3,258.0 481.6,257.8 481.9,258.7 482.2,259.0 482.5,258.5 482.8,258.4 483.1,258.4 483.4,258.1 483.7,258.5 484.0,258.6 484.3,257.6 484.6,257.5 484.9,258.5 485.2,258.7 485.5,258.6 485.8,258.9 486.1,258.5 486.4,257.8 486.7,258.1 487.0,257.9 487.3,257.5 487.6,257.8 487.9,258.7 488.2,258.7 488.5,258.4 488.8,258.1 489.1,257.0 489.4,257.2 489.7,258.0 490.0,258.0 490.3,257.5 490.6,257.7 491.0,256.5 491.3,255.1 491.6,255.4 491.9,255.0 492.2,251.0 492.5,246.6 492.8,246.9 493.1,249.7 493.4,243.3 493.7,232.9 494.0,218.6 494.3,204.7 494.6,200.3 494.9,206.5 495.2,218.0 495.5,230.2 495.8,239.9 496.1,246.5 496.4,250.8 496.7,253.4 497.0,254.7 497.3,255.6 497.6,256.3 497.9,255.3 498.2,255.6 498.5,256.9 498.8,257.5 499.1,257.5 499.4,258.2 499.7,258.0 500.0,257.7 500.3,257.9 500.6,257.6 500.9,257.0 501.2,257.4 501.5,258.3 501.8,258.3 502.1,258.1 502.4,258.1 502.7,257.9 503.0,258.3 503.3,258.9 503.6,258.2 503.9,257.6 504.2,257.9 504.5,256.9 504.8,255.0 505.1,254.9 505.4,256.6 505.7,257.7 506.0,258.8 506.3,259.1 506.6,258.0 506.9,257.6 507.2,258.1 507.5,258.3 507.8,258.4 508.1,258.5 508.4,258.2 508.7,258.1 509.0,258.7 509.3,258.8 509.6,258.0 509.9,258.6 510.2,258.9 510.5,258.7 510.8,258.2 511.1,258.0 511.4,257.4 511.7,257.9 512.0,259.2 512.3,259.1 512.6,258.9 512.9,259.1 513.2,258.7 513.5,258.0 513.8,257.9 514.1,257.8 514.4,257.4 514.7,258.4 515.0,259.2 515.3,258.9" fill="none" stroke="#6a6a6a" stroke-width="1.0" stroke-linejoin="round"/>
<polyline points="87.3,338.3 87.6,337.2 87.9,337.0 88.2,336.9 88.5,336.9 88.8,337.8 89.1,338.3 89.4,337.8 89.7,337.8 90.0,338.1 90.3,337.6 90.6,337.1 90.9,337.2 91.2,337.3 91.5,337.4 91.8,338.3 92.1,337.9 92.4,336.9 92.7,337.2 93.0,337.7 93.3,337.6 93.6,337.7 93.9,337.6 94.2,336.8 94.5,336.7 94.8,337.2 95.1,337.0 95.4,336.6 95.7,337.5 96.0,338.0 96.3,337.7 96.6,337.8 96.9,337.2 97.2,336.5 97.5,336.9 97.8,337.2 98.1,336.3 98.4,336.1 98.7,336.5 99.0,336.2 99.3,336.3 99.6,336.5 99.9,336.4 100.2,336.3 100.5,337.2 100.8,337.2 101.1,336.2 101.4,336.2 101.7,336.8 102.0,337.0 102.3,337.9 102.6,338.2 102.9,337.6 103.2,337.5 103.5,337.7 103.8,337.2 104.1,336.6 104.4,337.0 104.7,337.4 105.0,337.9 105.3,338.3 105.6,337.8 105.9,336.7 106.2,337.0 106.5,337.5 106.8,337.0 107.1,336.8 107.4,337.1 107.7,336.7 108.0,336.7 108.3,337.0 108.6,336.4 108.9,335.8 109.2,336.4 109.5,336.4 109.8,335.8 110.1,335.7 110.4,335.8 110.7,335.9 111.0,336.7 111.3,337.3 111.6,336.5 111.9,336.1 112.2,336.8 112.5,336.5 112.8,336.5 113.1,337.2 113.4,337.3 113.7,337.6 114.0,337.8 114.3,336.5 114.6,333.8 114.9,331.9 115.2,332.5 115.5,334.3 115.8,336.4 116.1,337.5 116.4,337.4 116.7,337.7 117.0,338.2 117.3,337.3 117.6,336.5 117.9,336.9 118.2,337.2 118.5,337.4 118.8,337.7 119.1,337.7 119.4,337.3 119.7,337.9 120.0,338.6 120.3,337.7 120.6,337.1 120.9,337.1 121.2,336.8 121.5,336.7 121.8,337.5 122.1,337.7 122.4,337.7 122.7,338.7 123.0,338.6 123.3,337.2 123.6,336.7 123.9,336.5 124.2,336.5 124.5,337.4 124.8,338.0 125.1,337.6 125.4,337.5 125.7,338.1 126.0,337.9 126.3,337.2 126.6,337.2 126.9,337.2 127.2,337.0 127.5,337.6 127.8,337.4 128.1,336.5 128.4,337.2 128.7,337.8 129.0,337.7 129.3,337.5 129.6,337.5 129.9,336.6 130.2,336.4 130.5,336.9 130.8,336.4 131.1,335.9 131.4,336.7 131.7,336.9 132.0,336.0 132.3,335.3 132.6,333.7 132.9,330.8 133.2,323.3 133.5,306.7 133.8,283.9 134.1,278.0 134.4,294.4 134.7,313.2 135.0,325.3 135.3,331.3 135.6,333.7 135.9,335.1 136.2,336.3 136.5,336.2 136.8,335.3 137.1,335.2 137.4,336.0 137.7,336.6 138.0,337.3 138.3,337.9 138.6,337.4 138.9,337.2 139.2,337.6 139.5,336.9 139.8,336.3 140.1,336.5 140.4,337.0 140.7,337.2 141.0,337.7 141.3,337.8 141.6,337.3 141.9,337.7 142.2,338.4 142.5,337.4 142.8,336.8 143.1,336.6 143.4,336.5 143.7,336.8 144.0,337.7 144.3,337.9 144.6,337.9 144.9,338.5 145.2,338.5 145.5,337.0 145.8,336.4 146.1,336.4 146.4,336.6 146.7,337.4 147.0,338.1 147.3,337.8 147.6,337.6 147.9,338.0 148.2,337.6 148.5,337.0 148.8,337.0 149.1,337.0 149.4,336.9 149.7,337.7 150.0,337.7 150.3,337.0 150.6,337.3 150.9,338.2 151.2,337.8 151.5,337.6 151.8,337.4 152.1,336.8 152.4,336.8 152.7,337.7 153.0,337.5 153.3,337.3 153.6,337.9 153.9,338.2 154.2,337.4 154.5,337.1 154.8,337.0 155.1,336.6 155.4,337.6 155.7,338.3 156.0,337.7 156.3,337.2 156.6,337.5 156.9,337.2 157.2,337.2 157.5,337.4 157.8,337.5 158.1,337.4 158.4,338.0 158.7,338.2 159.0,337.2 159.3,336.7 159.6,337.3 159.9,337.2 160.2,337.6 160.5,338.0 160.8,337.2 161.1,337.0 161.4,338.0 161.7,337.6 162.0,337.2 162.3,337.4 162.6,337.5 162.9,337.3 163.2,337.5 163.5,337.2 163.8,336.8 164.1,337.5 164.4,338.3 164.7,337.9 165.0,337.5 165.3,337.2 165.6,336.9 165.9,336.8 166.2,337.4 166.5,337.5 166.8,337.3 167.1,337.9 167.4,338.2 167.7,337.3 168.0,336.9 168.3,337.1 168.6,336.9 168.9,337.6 169.2,338.1 169.5,337.4 169.8,336.9 170.1,337.5 170.4,337.3 170.7,337.3 171.0,337.4 171.3,337.7 171.6,337.5 171.9,338.0 172.2,337.9 172.5,336.7 172.8,336.7 173.1,337.5 173.4,337.5 173.7,337.6 174.0,337.7 174.3,337.1 174.6,337.2 174.9,338.1 175.2,337.8 175.5,337.0 175.8,337.4 176.1,337.4 176.4,337.0 176.7,336.9 177.0,337.1 177.3,337.1 177.6,337.9 177.9,338.8 178.2,338.2 178.5,337.2 178.8,336.9 179.1,336.5 179.4,336.5 179.7,337.3 180.0,337.3 180.3,337.5 180.6,338.5 180.9,338.6 181.2,337.6 181.5,336.8 181.8,336.8 182.1,336.7 182.4,336.9 182.7,337.6 183.0,337.1 183.3,337.2 183.6,338.3 183.9,338.4 184.2,337.7" fill="none" stroke="#1a1a1a" stroke-width="1.2" stroke-linejoin="round"/>
<rect x="224" y="336.6" width="64.30" height="2.00" fill="#858585"/>
<polyline points="191.2,336.6 191.5,336.8 191.8,335.9 192.1,335.9 192.4,336.4 192.7,336.2 193.0,335.8 193.3,336.6 193.6,336.3 193.9,336.4 194.2,336.7 194.5,336.2 194.8,335.5 195.1,336.1 195.4,336.7 195.7,336.3 196.0,336.1 196.3,336.2 196.6,335.9 196.9,336.3 197.2,337.1 197.5,336.5 197.8,336.1 198.1,336.7 198.4,336.6 198.7,336.4 199.0,336.5 199.3,336.3 199.6,335.8 199.9,336.4 200.2,336.7 200.5,336.2 200.8,335.9 201.1,335.9 201.4,335.7 201.7,336.4 202.0,337.0 202.3,336.6 202.6,337.0 202.9,337.5 203.2,337.1 203.5,335.8 203.8,335.3 204.1,335.4 204.4,335.9 204.7,336.7 205.0,336.8 205.3,336.2 205.6,336.7 205.9,337.4 206.2,337.0 206.5,336.6 206.8,336.7 207.1,335.9 207.4,335.7 207.7,335.6 208.0,335.0 208.3,335.3 208.7,337.0 209.0,337.7 209.3,337.3 209.6,336.7 209.9,336.1 210.2,335.5 210.5,335.8 210.8,336.0 211.1,334.8 211.4,334.9 211.7,336.4 212.0,336.8 212.3,336.6 212.6,336.4 212.9,335.9 213.2,335.9 213.5,336.5 213.8,336.1 214.1,334.8 214.4,335.4 214.7,336.4 215.0,336.6 215.3,336.8 215.6,336.7 215.9,336.3 216.2,336.4 216.5,337.0 216.8,336.7 217.1,336.2 217.4,336.9 217.7,337.1 218.0,336.6 218.3,336.4 218.6,334.9 218.9,333.5 219.2,334.9 219.5,336.6 219.8,336.8 220.1,336.9 220.4,337.1 220.7,336.7 221.0,336.1 221.3,336.1 221.6,335.3 221.9,334.9 222.2,334.8 222.5,332.2 222.8,330.9 223.1,332.6 223.4,334.6 223.7,335.3 224.0,336.1 224.3,336.3 224.6,336.0 224.9,336.2 225.2,337.2 225.5,336.9" fill="none" stroke="#1a1a1a" stroke-width="1.2" stroke-linejoin="round"/>
<polyline points="256.5,336.7 256.8,337.0 257.1,337.1 257.4,336.6 257.7,336.9 258.0,337.4 258.3,336.8 258.6,335.9 258.9,336.3 259.2,336.5 259.5,336.6 259.8,337.2 260.1,336.8 260.4,335.9 260.7,335.8 261.0,335.4 261.3,334.2 261.7,333.5 262.0,332.5 262.3,331.6 262.6,331.4 262.9,331.9 263.2,332.7 263.5,333.2 263.8,335.2 264.1,334.6 264.4,331.1 264.7,328.3 265.0,329.5 265.3,332.6 265.6,334.4 265.9,333.4 266.2,331.6 266.5,328.0 266.8,320.6 267.1,307.7 267.4,291.7 267.7,281.8 268.0,283.2 268.3,288.9 268.6,296.7 268.9,304.6 269.2,311.9 269.5,318.4 269.8,323.4 270.1,326.9 270.4,329.6 270.7,331.4 271.0,332.4 271.3,333.4 271.7,334.0 272.0,333.6 272.3,333.9 272.6,335.1 272.9,335.5 273.2,335.8 273.5,336.1 273.8,335.5 274.1,335.3 274.4,335.8 274.7,335.9 275.0,335.5 275.3,336.3 275.6,336.8 275.9,336.5 276.2,336.5 276.5,336.1" fill="none" stroke="#1a1a1a" stroke-width="1.2" stroke-linejoin="round"/>
<rect x="311" y="337.3" width="98.50" height="1.60" fill="#777"/>
<polyline points="311.5,336.8 311.8,336.7 312.1,336.8 312.4,336.4 312.7,336.4 313.0,336.9 313.3,336.4 313.6,335.4 313.9,335.7 314.2,335.9 314.5,336.4 314.8,337.0 315.1,337.3 315.4,336.8 315.7,336.7 316.0,336.8 316.3,335.8 316.6,335.1 316.9,335.9 317.2,336.5 317.5,336.7 317.8,337.4 318.1,336.8 318.4,336.1 318.7,336.2 319.0,336.6 319.3,335.9 319.6,335.9 319.9,336.5 320.2,336.5 320.5,336.6 320.8,336.8 321.1,336.1 321.4,336.0 321.7,336.7 322.0,336.8 322.3,336.1 322.6,336.1 322.9,336.1 323.2,336.0 323.5,336.7 323.8,336.9 324.1,336.1 324.4,336.3 324.7,336.6 325.0,336.1 325.3,335.9 325.6,336.2 325.9,336.3 326.2,336.8 326.5,337.2 326.8,336.6 327.1,335.3 327.4,335.3 327.7,335.2 328.0,335.0 328.3,335.5 328.6,336.5 328.9,336.6 329.2,336.7 329.5,336.8 329.8,336.0 330.1,335.2 330.4,335.8 330.7,335.9 331.0,335.5 331.3,336.1 331.6,335.9 331.9,335.9 332.2,336.6 332.5,336.9 332.8,336.3 333.1,335.8 333.4,336.0 333.7,335.3 334.0,335.0 334.3,335.4 334.6,335.7 334.9,336.2 335.2,337.2 335.5,336.5 335.8,334.6 336.1,333.1 336.4,333.1 336.7,334.4 337.0,336.0 337.3,336.5 337.6,336.1 337.9,336.3 338.2,336.8 338.5,336.2 338.8,335.9 339.1,336.0 339.4,336.0 339.7,335.8 340.0,335.8 340.3,335.5 340.6,335.0 340.9,335.8 341.2,336.4 341.5,336.3 341.8,336.5 342.1,336.7 342.4,336.3 342.7,335.8 343.0,335.4 343.3,334.9 343.6,335.0 343.9,336.2 344.2,336.5 344.5,336.2 344.8,336.2 345.1,336.2 345.4,336.0 345.7,336.4 346.0,336.4 346.3,335.4 346.6,335.1 346.9,335.4 347.2,335.2 347.5,334.7 347.8,334.2 348.1,333.3 348.4,334.6 348.7,336.4 349.0,335.4 349.3,333.7 349.6,332.9 349.9,331.5 350.2,328.4 350.5,326.9 350.8,328.4 351.1,323.9 351.4,320.0 351.7,319.4 352.0,315.5 352.3,304.8 352.6,292.4 352.9,281.1 353.2,276.3 353.5,279.9 353.8,288.8 354.1,299.4 354.4,309.6 354.7,317.9 355.0,323.5 355.3,327.3 355.6,329.9 355.9,331.4 356.2,332.5 356.5,333.3 356.8,333.7 357.1,334.4 357.4,335.8 357.7,335.8 358.0,334.7 358.3,334.4 358.6,334.3 358.9,334.5 359.2,335.2 359.5,335.9 359.8,335.6 360.1,335.9 360.4,336.7 360.7,335.9 361.0,335.4 361.3,335.5 361.6,335.6 361.9,335.8 362.2,336.3 362.5,336.0 362.8,335.3 363.1,335.7 363.4,336.5 363.7,336.3 364.0,336.4 364.3,336.4 364.6,335.9 364.9,335.9 365.2,336.2 365.5,335.7 365.8,335.6 366.1,336.4 366.4,336.4 366.7,335.3 367.0,335.1 367.3,335.5 367.6,335.5 367.9,336.5 368.2,336.7 368.5,336.1 368.8,335.7 369.1,336.2 369.4,336.2 369.7,335.9 370.0,336.5 370.3,336.4 370.6,336.5 370.9,337.2 371.2,336.6 371.5,335.5 371.8,335.4 372.1,335.8 372.4,335.9 372.7,336.7 373.0,337.0 373.3,336.5 373.6,336.5 373.9,336.8 374.2,336.1 374.5,335.4 374.8,335.9 375.1,336.2 375.4,336.4 375.7,336.7 376.0,336.4 376.3,336.0 376.6,336.6 376.9,337.2 377.2,336.5 377.5,336.0 377.8,336.1 378.1,335.9 378.4,335.9 378.7,336.7 379.0,336.3 379.3,336.2 379.6,337.1 379.9,337.0 380.2,336.0 380.5,335.7 380.8,335.8 381.1,336.0 381.4,336.6 381.7,337.1 382.0,336.6 382.3,336.3 382.6,336.6 382.9,336.0 383.2,335.7 383.5,336.1 383.8,336.4 384.1,336.5 384.4,337.3 384.7,336.9 385.0,335.9 385.3,335.9 385.6,336.4 385.9,336.3 386.2,336.1 386.5,336.4 386.8,336.2 387.1,336.4 387.4,337.0 387.7,336.6 388.0,336.1 388.3,336.6 388.6,336.5 388.9,336.0 389.2,335.8 389.5,335.9 389.8,335.9 390.1,336.9 390.4,337.7 390.7,336.9 391.0,336.4 391.3,336.4 391.6,335.7 391.9,335.5 392.2,335.9 392.5,336.1 392.8,336.5 393.1,337.6 393.4,337.5 393.7,336.4 394.0,336.1 394.3,336.0 394.6,335.9 394.9,336.0 395.2,336.5 395.5,335.9 395.8,336.3 396.1,337.1 396.4,337.0 396.7,336.2 397.0,336.6 397.3,336.4 397.6,336.1 397.9,336.2 398.2,335.7 398.5,335.4 398.8,336.2 399.1,337.4 399.4,337.1 399.7,336.7 400.0,336.6 400.3,336.2 400.6,335.9 400.9,336.2 401.2,335.8 401.5,335.7 401.8,336.7 402.1,337.1 402.4,336.4 402.7,336.2 403.0,336.2 403.3,336.1 403.6,336.8 403.9,336.9 404.2,336.0 404.5,335.8 404.8,336.3 405.1,336.3 405.4,336.1 405.7,336.6 406.0,336.8 406.3,336.7 406.6,337.2 406.9,336.7 407.2,335.5 407.5,335.6 407.8,336.2 408.1,336.3 408.4,336.5 408.7,336.8 409.0,336.4 409.3,336.6" fill="none" stroke="#6a6a6a" stroke-width="1.0" stroke-linejoin="round"/>
<rect x="459" y="335.9" width="56.60" height="2.50" fill="#8a8a8a"/>
<polyline points="417.3,336.1 417.6,335.9 417.9,335.8 418.2,336.6 418.5,336.8 418.8,336.2 419.1,336.1 419.4,336.1 419.7,335.5 420.0,335.7 420.3,335.8 420.6,335.3 420.9,335.8 421.2,337.1 421.5,337.0 421.8,336.4 422.1,336.1 422.4,335.5 422.7,335.2 423.0,335.7 423.3,335.8 423.6,335.5 423.9,336.3 424.2,336.8 424.6,335.7 424.9,334.7 425.2,334.5 425.5,334.7 425.8,335.6 426.1,336.5 426.4,335.9 426.7,335.5 427.0,336.1 427.3,335.7 427.6,335.0 427.9,334.5 428.2,334.5 428.5,335.2 428.8,336.1 429.1,336.2 429.4,335.4 429.7,335.5 430.0,336.3 430.3,336.0 430.6,335.5 430.9,334.6 431.2,334.2 431.5,334.9 431.8,336.1 432.1,336.1 432.4,335.9 432.7,336.2 433.0,336.3 433.3,335.4 433.6,334.5 433.9,333.0 434.2,333.2 434.5,335.2 434.8,336.8 435.1,336.3 435.4,335.4 435.7,334.5 436.0,333.3 436.3,334.1 436.6,335.3 436.9,335.7 437.2,335.7 437.5,336.5 437.8,336.6 438.1,335.7 438.4,335.2 438.7,334.5 439.1,333.9 439.4,335.1 439.7,335.8 440.0,335.3 440.3,335.4 440.6,336.3 440.9,336.0 441.2,335.9 441.5,335.7 441.8,334.9 442.1,334.3 442.4,335.3 442.7,335.6 443.0,335.0 443.3,335.8 443.6,336.5 443.9,336.1 444.2,335.8 444.5,335.2 444.8,334.1 445.1,334.4 445.4,335.7 445.7,335.9 446.0,335.8 446.3,336.4 446.6,336.0 446.9,335.4 447.2,335.4 447.5,335.3 447.8,335.5 448.1,336.5 448.4,336.8 448.7,335.8 449.0,335.5 449.3,335.7 449.6,334.9 449.9,334.0 450.2,333.0 450.5,332.8 450.8,334.3 451.1,335.8 451.4,335.2 451.7,333.9 452.0,332.0 452.3,328.2 452.6,323.3 452.9,321.3 453.2,324.6 453.6,327.1 453.9,321.0 454.2,310.8 454.5,296.4 454.8,282.5 455.1,278.3 455.4,285.8 455.7,298.9 456.0,311.5 456.3,320.6 456.6,326.6 456.9,330.4 457.2,332.3 457.5,333.2 457.8,334.2 458.1,334.3 458.4,333.9 458.7,334.2 459.0,334.3 459.3,334.0 459.6,334.8 459.9,335.8 460.2,335.9 460.5,335.6" fill="none" stroke="#6a6a6a" stroke-width="1.0" stroke-linejoin="round"/>
<path d="M267.7 353.9 L271.59999999999997 367.79999999999995 L269.3 367.2 L269.3 383 L266.09999999999997 383 L266.09999999999997 367.2 L263.8 367.79999999999995 Z" fill="#0d0d0d"/>
<path d="M454.5 354.4 L458.4 368.29999999999995 L456.1 367.7 L456.1 383 L452.9 383 L452.9 367.7 L450.6 368.29999999999995 Z" fill="#0d0d0d"/>
</svg>
</body></html>
